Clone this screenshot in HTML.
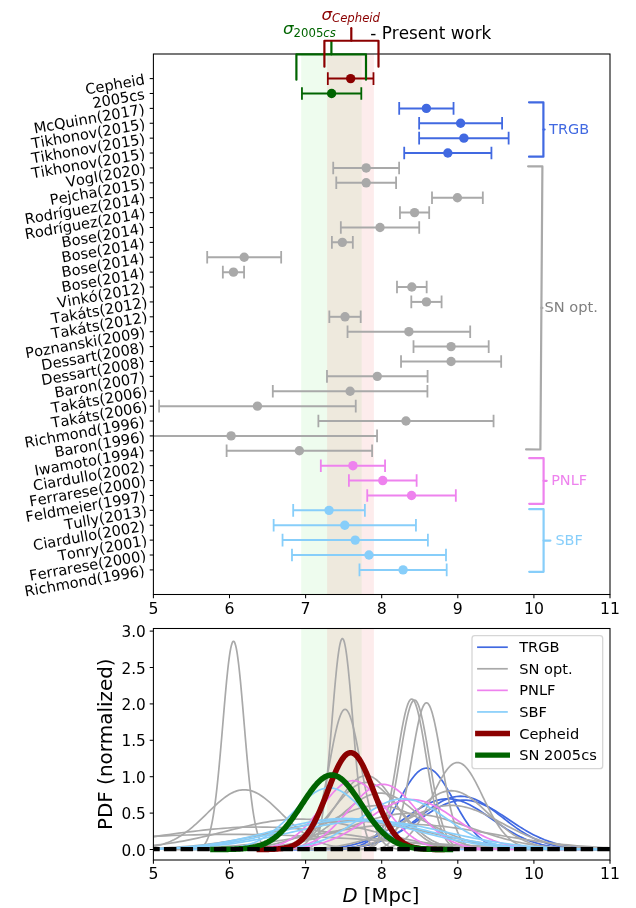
<!DOCTYPE html>
<html lang="en"><head><meta charset="utf-8"><title>M51 distance comparison</title>
<style>html,body{margin:0;padding:0;background:#fff}svg{display:block}text{font-kerning:none}</style>
</head><body>
<svg width="636" height="908" viewBox="0 0 636 908" font-family='"DejaVu Sans", "Liberation Sans", sans-serif'>
<defs><clipPath id="cu"><rect x="153.4" y="54.0" width="456.6" height="540.5"/></clipPath><clipPath id="cl"><rect x="153.4" y="628.5" width="456.6" height="231.5"/></clipPath></defs>
<rect width="636" height="908" fill="#fff"/>
<rect x="301.2" y="54.0" width="60.4" height="540.5" fill="#90EE90" fill-opacity="0.15"/>
<rect x="327.1" y="54.0" width="46.8" height="540.5" fill="#F08080" fill-opacity="0.15"/>
<rect x="301.2" y="628.5" width="60.4" height="231.5" fill="#90EE90" fill-opacity="0.15"/>
<rect x="327.1" y="628.5" width="46.8" height="231.5" fill="#F08080" fill-opacity="0.15"/>
<g clip-path="url(#cu)">
<g stroke="#8B0000" fill="#8B0000"><path d="M327.82,78.6H373.48" stroke-width="2.0"/><path d="M327.82,72.3V84.9M373.48,72.3V84.9" stroke-width="1.8"/><circle cx="350.65" cy="78.6" r="4.7" stroke="none"/></g>
<g stroke="#006400" fill="#006400"><path d="M301.95,93.49H361.3" stroke-width="2.0"/><path d="M301.95,87.19V99.79M361.3,87.19V99.79" stroke-width="1.8"/><circle cx="331.62" cy="93.49" r="4.7" stroke="none"/></g>
<g stroke="#4169E1" fill="#4169E1"><path d="M399.2,108.38H453.54" stroke-width="2.0"/><path d="M399.2,102.08V114.68M453.54,102.08V114.68" stroke-width="1.8"/><circle cx="426.37" cy="108.38" r="4.7" stroke="none"/></g>
<g stroke="#4169E1" fill="#4169E1"><path d="M419.14,123.26H502.09" stroke-width="2.0"/><path d="M419.14,116.96V129.56M502.09,116.96V129.56" stroke-width="1.8"/><circle cx="460.61" cy="123.26" r="4.7" stroke="none"/></g>
<g stroke="#4169E1" fill="#4169E1"><path d="M419.14,138.15H508.63" stroke-width="2.0"/><path d="M419.14,131.85V144.45M508.63,131.85V144.45" stroke-width="1.8"/><circle cx="463.89" cy="138.15" r="4.7" stroke="none"/></g>
<g stroke="#4169E1" fill="#4169E1"><path d="M404.22,153.04H491.43" stroke-width="2.0"/><path d="M404.22,146.74V159.34M491.43,146.74V159.34" stroke-width="1.8"/><circle cx="447.83" cy="153.04" r="4.7" stroke="none"/></g>
<g stroke="#A9A9A9" fill="#A9A9A9"><path d="M333.22,167.93H399.12" stroke-width="2.0"/><path d="M333.22,161.63V174.23M399.12,161.63V174.23" stroke-width="1.8"/><circle cx="366.17" cy="167.93" r="4.7" stroke="none"/></g>
<g stroke="#A9A9A9" fill="#A9A9A9"><path d="M336.27,182.82H396.08" stroke-width="2.0"/><path d="M336.27,176.52V189.12M396.08,176.52V189.12" stroke-width="1.8"/><circle cx="366.17" cy="182.82" r="4.7" stroke="none"/></g>
<g stroke="#A9A9A9" fill="#A9A9A9"><path d="M432,197.7H482.83" stroke-width="2.0"/><path d="M432,191.4V204M482.83,191.4V204" stroke-width="1.8"/><circle cx="457.42" cy="197.7" r="4.7" stroke="none"/></g>
<g stroke="#A9A9A9" fill="#A9A9A9"><path d="M399.96,212.59H429.18" stroke-width="2.0"/><path d="M399.96,206.29V218.89M429.18,206.29V218.89" stroke-width="1.8"/><circle cx="414.57" cy="212.59" r="4.7" stroke="none"/></g>
<g stroke="#A9A9A9" fill="#A9A9A9"><path d="M340.83,227.48H419.22" stroke-width="2.0"/><path d="M340.83,221.18V233.78M419.22,221.18V233.78" stroke-width="1.8"/><circle cx="380.02" cy="227.48" r="4.7" stroke="none"/></g>
<g stroke="#A9A9A9" fill="#A9A9A9"><path d="M331.88,242.37H352.83" stroke-width="2.0"/><path d="M331.88,236.07V248.67M352.83,236.07V248.67" stroke-width="1.8"/><circle cx="342.35" cy="242.37" r="4.7" stroke="none"/></g>
<g stroke="#A9A9A9" fill="#A9A9A9"><path d="M207.2,257.25H281.17" stroke-width="2.0"/><path d="M207.2,250.95V263.55M281.17,250.95V263.55" stroke-width="1.8"/><circle cx="244.19" cy="257.25" r="4.7" stroke="none"/></g>
<g stroke="#A9A9A9" fill="#A9A9A9"><path d="M222.84,272.14H244.07" stroke-width="2.0"/><path d="M222.84,265.84V278.44M244.07,265.84V278.44" stroke-width="1.8"/><circle cx="233.46" cy="272.14" r="4.7" stroke="none"/></g>
<g stroke="#A9A9A9" fill="#A9A9A9"><path d="M396.99,287.03H426.67" stroke-width="2.0"/><path d="M396.99,280.73V293.33M426.67,280.73V293.33" stroke-width="1.8"/><circle cx="411.83" cy="287.03" r="4.7" stroke="none"/></g>
<g stroke="#A9A9A9" fill="#A9A9A9"><path d="M411.3,301.92H441.59" stroke-width="2.0"/><path d="M411.3,295.62V308.22M441.59,295.62V308.22" stroke-width="1.8"/><circle cx="426.44" cy="301.92" r="4.7" stroke="none"/></g>
<g stroke="#A9A9A9" fill="#A9A9A9"><path d="M329.34,316.81H360.69" stroke-width="2.0"/><path d="M329.34,310.51V323.11M360.69,310.51V323.11" stroke-width="1.8"/><circle cx="345.02" cy="316.81" r="4.7" stroke="none"/></g>
<g stroke="#A9A9A9" fill="#A9A9A9"><path d="M347.53,331.69H470.2" stroke-width="2.0"/><path d="M347.53,325.39V337.99M470.2,325.39V337.99" stroke-width="1.8"/><circle cx="408.87" cy="331.69" r="4.7" stroke="none"/></g>
<g stroke="#A9A9A9" fill="#A9A9A9"><path d="M413.51,346.58H488.69" stroke-width="2.0"/><path d="M413.51,340.28V352.88M488.69,340.28V352.88" stroke-width="1.8"/><circle cx="451.1" cy="346.58" r="4.7" stroke="none"/></g>
<g stroke="#A9A9A9" fill="#A9A9A9"><path d="M401.03,361.47H501.17" stroke-width="2.0"/><path d="M401.03,355.17V367.77M501.17,355.17V367.77" stroke-width="1.8"/><circle cx="451.1" cy="361.47" r="4.7" stroke="none"/></g>
<g stroke="#A9A9A9" fill="#A9A9A9"><path d="M326.98,376.36H427.59" stroke-width="2.0"/><path d="M326.98,370.06V382.66M427.59,370.06V382.66" stroke-width="1.8"/><circle cx="377.28" cy="376.36" r="4.7" stroke="none"/></g>
<g stroke="#A9A9A9" fill="#A9A9A9"><path d="M272.8,391.25H427.43" stroke-width="2.0"/><path d="M272.8,384.95V397.55M427.43,384.95V397.55" stroke-width="1.8"/><circle cx="350.12" cy="391.25" r="4.7" stroke="none"/></g>
<g stroke="#A9A9A9" fill="#A9A9A9"><path d="M159.11,406.13H355.75" stroke-width="2.0"/><path d="M159.11,399.83V412.43M355.75,399.83V412.43" stroke-width="1.8"/><circle cx="257.43" cy="406.13" r="4.7" stroke="none"/></g>
<g stroke="#A9A9A9" fill="#A9A9A9"><path d="M318.38,421.02H493.56" stroke-width="2.0"/><path d="M318.38,414.72V427.32M493.56,414.72V427.32" stroke-width="1.8"/><circle cx="405.97" cy="421.02" r="4.7" stroke="none"/></g>
<g stroke="#A9A9A9" fill="#A9A9A9"><path d="M85.14,435.91H377.06" stroke-width="2.0"/><path d="M85.14,429.61V442.21M377.06,429.61V442.21" stroke-width="1.8"/><circle cx="231.1" cy="435.91" r="4.7" stroke="none"/></g>
<g stroke="#A9A9A9" fill="#A9A9A9"><path d="M226.61,450.8H372.11" stroke-width="2.0"/><path d="M226.61,444.5V457.1M372.11,444.5V457.1" stroke-width="1.8"/><circle cx="299.36" cy="450.8" r="4.7" stroke="none"/></g>
<g stroke="#EE82EE" fill="#EE82EE"><path d="M320.82,465.68H385.05" stroke-width="2.0"/><path d="M320.82,459.38V471.98M385.05,459.38V471.98" stroke-width="1.8"/><circle cx="352.93" cy="465.68" r="4.7" stroke="none"/></g>
<g stroke="#EE82EE" fill="#EE82EE"><path d="M348.9,480.57H416.63" stroke-width="2.0"/><path d="M348.9,474.27V486.87M416.63,474.27V486.87" stroke-width="1.8"/><circle cx="382.76" cy="480.57" r="4.7" stroke="none"/></g>
<g stroke="#EE82EE" fill="#EE82EE"><path d="M367.24,495.46H455.82" stroke-width="2.0"/><path d="M367.24,489.16V501.76M455.82,489.16V501.76" stroke-width="1.8"/><circle cx="411.53" cy="495.46" r="4.7" stroke="none"/></g>
<g stroke="#87CEFA" fill="#87CEFA"><path d="M293.19,510.35H364.88" stroke-width="2.0"/><path d="M293.19,504.05V516.65M364.88,504.05V516.65" stroke-width="1.8"/><circle cx="329.04" cy="510.35" r="4.7" stroke="none"/></g>
<g stroke="#87CEFA" fill="#87CEFA"><path d="M273.64,525.24H415.94" stroke-width="2.0"/><path d="M273.64,518.94V531.54M415.94,518.94V531.54" stroke-width="1.8"/><circle cx="344.79" cy="525.24" r="4.7" stroke="none"/></g>
<g stroke="#87CEFA" fill="#87CEFA"><path d="M282.54,540.12H427.89" stroke-width="2.0"/><path d="M282.54,533.82V546.42M427.89,533.82V546.42" stroke-width="1.8"/><circle cx="355.22" cy="540.12" r="4.7" stroke="none"/></g>
<g stroke="#87CEFA" fill="#87CEFA"><path d="M291.98,555.01H446" stroke-width="2.0"/><path d="M291.98,548.71V561.31M446,548.71V561.31" stroke-width="1.8"/><circle cx="368.99" cy="555.01" r="4.7" stroke="none"/></g>
<g stroke="#87CEFA" fill="#87CEFA"><path d="M359.48,569.9H446.69" stroke-width="2.0"/><path d="M359.48,563.6V576.2M446.69,563.6V576.2" stroke-width="1.8"/><circle cx="403.08" cy="569.9" r="4.7" stroke="none"/></g>
</g>
<g clip-path="url(#cl)">
<polyline points="317.75,849.47 319.11,849.47 320.46,849.46 321.82,849.45 323.18,849.44 324.54,849.43 325.90,849.41 327.26,849.40 328.61,849.38 329.97,849.35 331.33,849.32 332.69,849.29 334.05,849.25 335.41,849.20 336.77,849.15 338.12,849.09 339.48,849.01 340.84,848.93 342.20,848.83 343.56,848.72 344.92,848.60 346.27,848.45 347.63,848.29 348.99,848.10 350.35,847.89 351.71,847.65 353.07,847.37 354.42,847.07 355.78,846.73 357.14,846.35 358.50,845.93 359.86,845.45 361.22,844.93 362.57,844.36 363.93,843.72 365.29,843.03 366.65,842.27 368.01,841.43 369.37,840.53 370.72,839.55 372.08,838.49 373.44,837.35 374.80,836.12 376.16,834.80 377.52,833.40 378.88,831.91 380.23,830.32 381.59,828.65 382.95,826.88 384.31,825.03 385.67,823.09 387.03,821.07 388.38,818.97 389.74,816.79 391.10,814.55 392.46,812.25 393.82,809.90 395.18,807.51 396.53,805.08 397.89,802.62 399.25,800.16 400.61,797.69 401.97,795.24 403.33,792.81 404.68,790.43 406.04,788.09 407.40,785.82 408.76,783.64 410.12,781.55 411.48,779.57 412.83,777.71 414.19,775.98 415.55,774.40 416.91,772.98 418.27,771.73 419.63,770.65 420.98,769.76 422.34,769.06 423.70,768.55 425.06,768.25 426.42,768.15 427.78,768.25 429.14,768.55 430.49,769.06 431.85,769.76 433.21,770.65 434.57,771.73 435.93,772.98 437.29,774.40 438.64,775.98 440.00,777.71 441.36,779.57 442.72,781.55 444.08,783.64 445.44,785.82 446.79,788.09 448.15,790.43 449.51,792.81 450.87,795.24 452.23,797.69 453.59,800.16 454.94,802.62 456.30,805.08 457.66,807.51 459.02,809.90 460.38,812.25 461.74,814.55 463.09,816.79 464.45,818.97 465.81,821.07 467.17,823.09 468.53,825.03 469.89,826.88 471.25,828.65 472.60,830.32 473.96,831.91 475.32,833.40 476.68,834.80 478.04,836.12 479.40,837.35 480.75,838.49 482.11,839.55 483.47,840.53 484.83,841.43 486.19,842.27 487.55,843.03 488.90,843.72 490.26,844.36 491.62,844.93 492.98,845.45 494.34,845.93 495.70,846.35 497.05,846.73 498.41,847.07 499.77,847.37 501.13,847.65 502.49,847.89 503.85,848.10 505.20,848.29 506.56,848.45 507.92,848.60 509.28,848.72 510.64,848.83 512.00,848.93 513.36,849.01 514.71,849.09 516.07,849.15 517.43,849.20 518.79,849.25 520.15,849.29 521.51,849.32 522.86,849.35 524.22,849.38 525.58,849.40 526.94,849.41 528.30,849.43 529.66,849.44 531.01,849.45 532.37,849.46 533.73,849.47 535.09,849.47" fill="none" stroke="#4169E1" stroke-width="1.7" stroke-linejoin="round" stroke-linecap="square"/>
<polyline points="294.77,849.48 296.84,849.48 298.91,849.47 300.99,849.47 303.06,849.46 305.13,849.45 307.21,849.44 309.28,849.43 311.36,849.42 313.43,849.40 315.50,849.38 317.58,849.36 319.65,849.34 321.72,849.31 323.80,849.27 325.87,849.23 327.95,849.18 330.02,849.13 332.09,849.06 334.17,848.99 336.24,848.91 338.31,848.81 340.39,848.70 342.46,848.58 344.53,848.44 346.61,848.29 348.68,848.11 350.76,847.91 352.83,847.69 354.90,847.44 356.98,847.16 359.05,846.85 361.12,846.51 363.20,846.13 365.27,845.72 367.35,845.26 369.42,844.76 371.49,844.22 373.57,843.62 375.64,842.98 377.71,842.29 379.79,841.54 381.86,840.74 383.94,839.87 386.01,838.95 388.08,837.98 390.16,836.94 392.23,835.84 394.30,834.68 396.38,833.47 398.45,832.20 400.53,830.88 402.60,829.50 404.67,828.08 406.75,826.61 408.82,825.10 410.89,823.56 412.97,821.99 415.04,820.40 417.12,818.79 419.19,817.18 421.26,815.56 423.34,813.96 425.41,812.37 427.48,810.80 429.56,809.27 431.63,807.79 433.71,806.36 435.78,804.99 437.85,803.69 439.93,802.47 442.00,801.34 444.07,800.31 446.15,799.38 448.22,798.55 450.29,797.85 452.37,797.27 454.44,796.81 456.52,796.48 458.59,796.28 460.66,796.21 462.74,796.28 464.81,796.48 466.88,796.81 468.96,797.27 471.03,797.85 473.11,798.55 475.18,799.38 477.25,800.31 479.33,801.34 481.40,802.47 483.47,803.69 485.55,804.99 487.62,806.36 489.70,807.79 491.77,809.27 493.84,810.80 495.92,812.37 497.99,813.96 500.06,815.56 502.14,817.18 504.21,818.79 506.29,820.40 508.36,821.99 510.43,823.56 512.51,825.10 514.58,826.61 516.65,828.08 518.73,829.50 520.80,830.88 522.88,832.20 524.95,833.47 527.02,834.68 529.10,835.84 531.17,836.94 533.24,837.98 535.32,838.95 537.39,839.87 539.47,840.74 541.54,841.54 543.61,842.29 545.69,842.98 547.76,843.62 549.83,844.22 551.91,844.76 553.98,845.26 556.05,845.72 558.13,846.13 560.20,846.51 562.28,846.85 564.35,847.16 566.42,847.44 568.50,847.69 570.57,847.91 572.64,848.11 574.72,848.29 576.79,848.44 578.87,848.58 580.94,848.70 583.01,848.81 585.09,848.91 587.16,848.99 589.23,849.06 591.31,849.13 593.38,849.18 595.46,849.23 597.53,849.27 599.60,849.31 601.68,849.34 603.75,849.36 605.82,849.38 607.90,849.40 609.97,849.42 612.05,849.43 614.12,849.44 616.19,849.45 618.27,849.46 620.34,849.47 622.41,849.47 624.49,849.48 626.56,849.48" fill="none" stroke="#4169E1" stroke-width="1.7" stroke-linejoin="round" stroke-linecap="square"/>
<polyline points="284.95,849.48 287.19,849.48 289.42,849.48 291.66,849.47 293.90,849.46 296.14,849.46 298.37,849.45 300.61,849.44 302.85,849.42 305.08,849.41 307.32,849.39 309.56,849.37 311.80,849.35 314.03,849.32 316.27,849.29 318.51,849.25 320.75,849.20 322.98,849.15 325.22,849.10 327.46,849.03 329.70,848.95 331.93,848.86 334.17,848.76 336.41,848.65 338.64,848.52 340.88,848.37 343.12,848.21 345.36,848.03 347.59,847.82 349.83,847.59 352.07,847.33 354.31,847.04 356.54,846.73 358.78,846.38 361.02,845.99 363.26,845.57 365.49,845.11 367.73,844.60 369.97,844.05 372.20,843.46 374.44,842.82 376.68,842.12 378.92,841.38 381.15,840.58 383.39,839.73 385.63,838.82 387.87,837.86 390.10,836.84 392.34,835.77 394.58,834.64 396.82,833.46 399.05,832.24 401.29,830.96 403.53,829.64 405.76,828.28 408.00,826.89 410.24,825.46 412.48,824.00 414.71,822.53 416.95,821.04 419.19,819.54 421.43,818.05 423.66,816.56 425.90,815.08 428.14,813.63 430.38,812.22 432.61,810.84 434.85,809.51 437.09,808.24 439.33,807.04 441.56,805.91 443.80,804.86 446.04,803.90 448.27,803.04 450.51,802.28 452.75,801.63 454.99,801.09 457.22,800.66 459.46,800.35 461.70,800.17 463.94,800.11 466.17,800.17 468.41,800.35 470.65,800.66 472.89,801.09 475.12,801.63 477.36,802.28 479.60,803.04 481.83,803.90 484.07,804.86 486.31,805.91 488.55,807.04 490.78,808.24 493.02,809.51 495.26,810.84 497.50,812.22 499.73,813.63 501.97,815.08 504.21,816.56 506.45,818.05 508.68,819.54 510.92,821.04 513.16,822.53 515.39,824.00 517.63,825.46 519.87,826.89 522.11,828.28 524.34,829.64 526.58,830.96 528.82,832.24 531.06,833.46 533.29,834.64 535.53,835.77 537.77,836.84 540.01,837.86 542.24,838.82 544.48,839.73 546.72,840.58 548.95,841.38 551.19,842.12 553.43,842.82 555.67,843.46 557.90,844.05 560.14,844.60 562.38,845.11 564.62,845.57 566.85,845.99 569.09,846.38 571.33,846.73 573.57,847.04 575.80,847.33 578.04,847.59 580.28,847.82 582.51,848.03 584.75,848.21 586.99,848.37 589.23,848.52 591.46,848.65 593.70,848.76 595.94,848.86 598.18,848.95 600.41,849.03 602.65,849.10 604.89,849.15 607.13,849.20 609.36,849.25 611.60,849.29 613.84,849.32 616.07,849.35 618.31,849.37 620.55,849.39 622.79,849.41 625.02,849.42 627.26,849.44 629.50,849.45 631.74,849.46 633.97,849.46 636.21,849.47 638.45,849.48 640.69,849.48 642.92,849.48" fill="none" stroke="#4169E1" stroke-width="1.7" stroke-linejoin="round" stroke-linecap="square"/>
<polyline points="273.46,849.48 275.64,849.48 277.82,849.47 280.00,849.47 282.18,849.46 284.36,849.46 286.54,849.45 288.72,849.44 290.90,849.42 293.08,849.41 295.26,849.39 297.44,849.37 299.62,849.34 301.80,849.31 303.98,849.28 306.16,849.24 308.34,849.20 310.52,849.14 312.70,849.08 314.88,849.02 317.06,848.94 319.24,848.85 321.42,848.74 323.60,848.63 325.78,848.49 327.96,848.34 330.14,848.18 332.32,847.99 334.50,847.77 336.69,847.54 338.87,847.27 341.05,846.98 343.23,846.65 345.41,846.30 347.59,845.90 349.77,845.47 351.95,844.99 354.13,844.48 356.31,843.91 358.49,843.30 360.67,842.64 362.85,841.93 365.03,841.16 367.21,840.34 369.39,839.47 371.57,838.54 373.75,837.55 375.93,836.51 378.11,835.41 380.29,834.25 382.47,833.04 384.65,831.79 386.83,830.48 389.01,829.12 391.19,827.73 393.37,826.29 395.55,824.83 397.73,823.34 399.91,821.82 402.09,820.29 404.27,818.76 406.45,817.22 408.63,815.69 410.81,814.18 412.99,812.69 415.17,811.24 417.35,809.83 419.54,808.47 421.72,807.16 423.90,805.93 426.08,804.77 428.26,803.69 430.44,802.71 432.62,801.83 434.80,801.04 436.98,800.37 439.16,799.82 441.34,799.38 443.52,799.07 445.70,798.88 447.88,798.81 450.06,798.88 452.24,799.07 454.42,799.38 456.60,799.82 458.78,800.37 460.96,801.04 463.14,801.83 465.32,802.71 467.50,803.69 469.68,804.77 471.86,805.93 474.04,807.16 476.22,808.47 478.40,809.83 480.58,811.24 482.76,812.69 484.94,814.18 487.12,815.69 489.30,817.22 491.48,818.76 493.66,820.29 495.84,821.82 498.02,823.34 500.21,824.83 502.39,826.29 504.57,827.73 506.75,829.12 508.93,830.48 511.11,831.79 513.29,833.04 515.47,834.25 517.65,835.41 519.83,836.51 522.01,837.55 524.19,838.54 526.37,839.47 528.55,840.34 530.73,841.16 532.91,841.93 535.09,842.64 537.27,843.30 539.45,843.91 541.63,844.48 543.81,844.99 545.99,845.47 548.17,845.90 550.35,846.30 552.53,846.65 554.71,846.98 556.89,847.27 559.07,847.54 561.25,847.77 563.43,847.99 565.61,848.18 567.79,848.34 569.97,848.49 572.15,848.63 574.33,848.74 576.51,848.85 578.69,848.94 580.87,849.02 583.06,849.08 585.24,849.14 587.42,849.20 589.60,849.24 591.78,849.28 593.96,849.31 596.14,849.34 598.32,849.37 600.50,849.39 602.68,849.41 604.86,849.42 607.04,849.44 609.22,849.45 611.40,849.46 613.58,849.46 615.76,849.47 617.94,849.47 620.12,849.48 622.30,849.48" fill="none" stroke="#4169E1" stroke-width="1.7" stroke-linejoin="round" stroke-linecap="square"/>
<polyline points="234.42,849.48 236.07,849.47 237.71,849.47 239.36,849.46 241.01,849.45 242.66,849.44 244.30,849.43 245.95,849.41 247.60,849.40 249.25,849.38 250.89,849.35 252.54,849.33 254.19,849.29 255.84,849.25 257.48,849.21 259.13,849.16 260.78,849.10 262.43,849.03 264.07,848.95 265.72,848.86 267.37,848.75 269.02,848.64 270.66,848.50 272.31,848.34 273.96,848.17 275.61,847.97 277.25,847.75 278.90,847.50 280.55,847.22 282.20,846.90 283.85,846.55 285.49,846.16 287.14,845.73 288.79,845.26 290.44,844.74 292.08,844.16 293.73,843.54 295.38,842.85 297.03,842.11 298.67,841.30 300.32,840.42 301.97,839.48 303.62,838.47 305.26,837.38 306.91,836.23 308.56,834.99 310.21,833.69 311.85,832.31 313.50,830.85 315.15,829.32 316.80,827.72 318.44,826.06 320.09,824.33 321.74,822.53 323.39,820.69 325.03,818.79 326.68,816.85 328.33,814.88 329.98,812.87 331.62,810.85 333.27,808.82 334.92,806.79 336.57,804.76 338.21,802.76 339.86,800.79 341.51,798.87 343.16,797.00 344.81,795.20 346.45,793.48 348.10,791.84 349.75,790.31 351.40,788.88 353.04,787.58 354.69,786.41 356.34,785.38 357.99,784.49 359.63,783.75 361.28,783.18 362.93,782.76 364.58,782.51 366.22,782.43 367.87,782.51 369.52,782.76 371.17,783.18 372.81,783.75 374.46,784.49 376.11,785.38 377.76,786.41 379.40,787.58 381.05,788.88 382.70,790.31 384.35,791.84 385.99,793.48 387.64,795.20 389.29,797.00 390.94,798.87 392.58,800.79 394.23,802.76 395.88,804.76 397.53,806.79 399.17,808.82 400.82,810.85 402.47,812.87 404.12,814.88 405.76,816.85 407.41,818.79 409.06,820.69 410.71,822.53 412.36,824.33 414.00,826.06 415.65,827.72 417.30,829.32 418.95,830.85 420.59,832.31 422.24,833.69 423.89,834.99 425.54,836.23 427.18,837.38 428.83,838.47 430.48,839.48 432.13,840.42 433.77,841.30 435.42,842.11 437.07,842.85 438.72,843.54 440.36,844.16 442.01,844.74 443.66,845.26 445.31,845.73 446.95,846.16 448.60,846.55 450.25,846.90 451.90,847.22 453.54,847.50 455.19,847.75 456.84,847.97 458.49,848.17 460.13,848.34 461.78,848.50 463.43,848.64 465.08,848.75 466.72,848.86 468.37,848.95 470.02,849.03 471.67,849.10 473.32,849.16 474.96,849.21 476.61,849.25 478.26,849.29 479.91,849.33 481.55,849.35 483.20,849.38 484.85,849.40 486.50,849.41 488.14,849.43 489.79,849.44 491.44,849.45 493.09,849.46 494.73,849.47 496.38,849.47 498.03,849.48" fill="none" stroke="#A9A9A9" stroke-width="1.7" stroke-linejoin="round" stroke-linecap="square"/>
<polyline points="246.59,849.48 248.09,849.47 249.58,849.46 251.08,849.46 252.58,849.45 254.07,849.43 255.57,849.42 257.06,849.41 258.56,849.39 260.05,849.36 261.55,849.34 263.04,849.31 264.54,849.27 266.03,849.23 267.53,849.18 269.02,849.12 270.52,849.06 272.02,848.98 273.51,848.89 275.01,848.79 276.50,848.68 278.00,848.55 279.49,848.40 280.99,848.23 282.48,848.03 283.98,847.82 285.47,847.57 286.97,847.29 288.46,846.98 289.96,846.64 291.46,846.25 292.95,845.83 294.45,845.35 295.94,844.83 297.44,844.25 298.93,843.62 300.43,842.93 301.92,842.17 303.42,841.35 304.91,840.46 306.41,839.50 307.90,838.46 309.40,837.35 310.89,836.15 312.39,834.88 313.89,833.52 315.38,832.08 316.88,830.56 318.37,828.95 319.87,827.27 321.36,825.51 322.86,823.67 324.35,821.76 325.85,819.79 327.34,817.76 328.84,815.67 330.33,813.53 331.83,811.35 333.33,809.14 334.82,806.92 336.32,804.68 337.81,802.44 339.31,800.21 340.80,798.01 342.30,795.84 343.79,793.72 345.29,791.66 346.78,789.67 348.28,787.77 349.77,785.97 351.27,784.28 352.77,782.72 354.26,781.28 355.76,779.99 357.25,778.85 358.75,777.87 360.24,777.06 361.74,776.43 363.23,775.97 364.73,775.69 366.22,775.60 367.72,775.69 369.21,775.97 370.71,776.43 372.20,777.06 373.70,777.87 375.20,778.85 376.69,779.99 378.19,781.28 379.68,782.72 381.18,784.28 382.67,785.97 384.17,787.77 385.66,789.67 387.16,791.66 388.65,793.72 390.15,795.84 391.64,798.01 393.14,800.21 394.64,802.44 396.13,804.68 397.63,806.92 399.12,809.14 400.62,811.35 402.11,813.53 403.61,815.67 405.10,817.76 406.60,819.79 408.09,821.76 409.59,823.67 411.08,825.51 412.58,827.27 414.08,828.95 415.57,830.56 417.07,832.08 418.56,833.52 420.06,834.88 421.55,836.15 423.05,837.35 424.54,838.46 426.04,839.50 427.53,840.46 429.03,841.35 430.52,842.17 432.02,842.93 433.51,843.62 435.01,844.25 436.51,844.83 438.00,845.35 439.50,845.83 440.99,846.25 442.49,846.64 443.98,846.98 445.48,847.29 446.97,847.57 448.47,847.82 449.96,848.03 451.46,848.23 452.95,848.40 454.45,848.55 455.95,848.68 457.44,848.79 458.94,848.89 460.43,848.98 461.93,849.06 463.42,849.12 464.92,849.18 466.41,849.23 467.91,849.27 469.40,849.31 470.90,849.34 472.39,849.36 473.89,849.39 475.39,849.41 476.88,849.42 478.38,849.43 479.87,849.45 481.37,849.46 482.86,849.46 484.36,849.47 485.85,849.48" fill="none" stroke="#A9A9A9" stroke-width="1.7" stroke-linejoin="round" stroke-linecap="square"/>
<polyline points="355.80,849.47 357.07,849.46 358.34,849.46 359.61,849.45 360.88,849.44 362.15,849.42 363.42,849.41 364.69,849.39 365.96,849.37 367.24,849.34 368.51,849.31 369.78,849.27 371.05,849.23 372.32,849.18 373.59,849.12 374.86,849.06 376.13,848.98 377.40,848.89 378.67,848.79 379.94,848.67 381.22,848.53 382.49,848.38 383.76,848.20 385.03,848.00 386.30,847.77 387.57,847.52 388.84,847.23 390.11,846.90 391.38,846.54 392.65,846.13 393.92,845.68 395.19,845.18 396.47,844.62 397.74,844.00 399.01,843.33 400.28,842.58 401.55,841.77 402.82,840.88 404.09,839.91 405.36,838.87 406.63,837.73 407.90,836.51 409.17,835.20 410.45,833.79 411.72,832.29 412.99,830.69 414.26,829.00 415.53,827.21 416.80,825.32 418.07,823.34 419.34,821.27 420.61,819.11 421.88,816.86 423.15,814.54 424.42,812.15 425.70,809.69 426.97,807.17 428.24,804.61 429.51,802.02 430.78,799.39 432.05,796.76 433.32,794.12 434.59,791.50 435.86,788.91 437.13,786.36 438.40,783.86 439.68,781.44 440.95,779.10 442.22,776.87 443.49,774.75 444.76,772.76 446.03,770.92 447.30,769.23 448.57,767.71 449.84,766.37 451.11,765.22 452.38,764.27 453.65,763.52 454.93,762.98 456.20,762.65 457.47,762.54 458.74,762.65 460.01,762.98 461.28,763.52 462.55,764.27 463.82,765.22 465.09,766.37 466.36,767.71 467.63,769.23 468.91,770.92 470.18,772.76 471.45,774.75 472.72,776.87 473.99,779.10 475.26,781.44 476.53,783.86 477.80,786.36 479.07,788.91 480.34,791.50 481.61,794.12 482.88,796.76 484.16,799.39 485.43,802.02 486.70,804.61 487.97,807.17 489.24,809.69 490.51,812.15 491.78,814.54 493.05,816.86 494.32,819.11 495.59,821.27 496.86,823.34 498.14,825.32 499.41,827.21 500.68,829.00 501.95,830.69 503.22,832.29 504.49,833.79 505.76,835.20 507.03,836.51 508.30,837.73 509.57,838.87 510.84,839.91 512.11,840.88 513.39,841.77 514.66,842.58 515.93,843.33 517.20,844.00 518.47,844.62 519.74,845.18 521.01,845.68 522.28,846.13 523.55,846.54 524.82,846.90 526.09,847.23 527.37,847.52 528.64,847.77 529.91,848.00 531.18,848.20 532.45,848.38 533.72,848.53 534.99,848.67 536.26,848.79 537.53,848.89 538.80,848.98 540.07,849.06 541.34,849.12 542.62,849.18 543.89,849.23 545.16,849.27 546.43,849.31 547.70,849.34 548.97,849.37 550.24,849.39 551.51,849.41 552.78,849.42 554.05,849.44 555.32,849.45 556.60,849.46 557.87,849.46 559.14,849.47" fill="none" stroke="#A9A9A9" stroke-width="1.7" stroke-linejoin="round" stroke-linecap="square"/>
<polyline points="355.40,849.45 356.14,849.44 356.88,849.43 357.62,849.41 358.36,849.39 359.10,849.37 359.84,849.34 360.58,849.31 361.32,849.27 362.06,849.23 362.80,849.17 363.53,849.11 364.27,849.04 365.01,848.95 365.75,848.85 366.49,848.74 367.23,848.61 367.97,848.45 368.71,848.28 369.45,848.07 370.19,847.84 370.93,847.57 371.67,847.27 372.41,846.92 373.15,846.53 373.88,846.09 374.62,845.60 375.36,845.04 376.10,844.41 376.84,843.71 377.58,842.93 378.32,842.07 379.06,841.11 379.80,840.05 380.54,838.89 381.28,837.61 382.02,836.21 382.76,834.68 383.50,833.02 384.24,831.22 384.97,829.27 385.71,827.17 386.45,824.92 387.19,822.50 387.93,819.92 388.67,817.17 389.41,814.26 390.15,811.18 390.89,807.94 391.63,804.54 392.37,800.97 393.11,797.26 393.85,793.40 394.59,789.41 395.32,785.29 396.06,781.07 396.80,776.74 397.54,772.34 398.28,767.88 399.02,763.37 399.76,758.84 400.50,754.31 401.24,749.80 401.98,745.35 402.72,740.96 403.46,736.67 404.20,732.51 404.94,728.49 405.68,724.65 406.41,721.01 407.15,717.59 407.89,714.42 408.63,711.52 409.37,708.91 410.11,706.60 410.85,704.62 411.59,702.98 412.33,701.70 413.07,700.77 413.81,700.21 414.55,700.02 415.29,700.21 416.03,700.77 416.76,701.70 417.50,702.98 418.24,704.62 418.98,706.60 419.72,708.91 420.46,711.52 421.20,714.42 421.94,717.59 422.68,721.01 423.42,724.65 424.16,728.49 424.90,732.51 425.64,736.67 426.38,740.96 427.12,745.35 427.85,749.80 428.59,754.31 429.33,758.84 430.07,763.37 430.81,767.88 431.55,772.34 432.29,776.74 433.03,781.07 433.77,785.29 434.51,789.41 435.25,793.40 435.99,797.26 436.73,800.97 437.47,804.54 438.20,807.94 438.94,811.18 439.68,814.26 440.42,817.17 441.16,819.92 441.90,822.50 442.64,824.92 443.38,827.17 444.12,829.27 444.86,831.22 445.60,833.02 446.34,834.68 447.08,836.21 447.82,837.61 448.56,838.89 449.29,840.05 450.03,841.11 450.77,842.07 451.51,842.93 452.25,843.71 452.99,844.41 453.73,845.04 454.47,845.60 455.21,846.09 455.95,846.53 456.69,846.92 457.43,847.27 458.17,847.57 458.91,847.84 459.64,848.07 460.38,848.28 461.12,848.45 461.86,848.61 462.60,848.74 463.34,848.85 464.08,848.95 464.82,849.04 465.56,849.11 466.30,849.17 467.04,849.23 467.78,849.27 468.52,849.31 469.26,849.34 470.00,849.37 470.73,849.39 471.47,849.41 472.21,849.43 472.95,849.44 473.69,849.45" fill="none" stroke="#A9A9A9" stroke-width="1.7" stroke-linejoin="round" stroke-linecap="square"/>
<polyline points="223.31,849.48 225.27,849.48 227.23,849.47 229.19,849.47 231.15,849.46 233.11,849.45 235.07,849.44 237.02,849.43 238.98,849.41 240.94,849.40 242.90,849.38 244.86,849.35 246.82,849.33 248.78,849.29 250.74,849.26 252.70,849.21 254.66,849.16 256.62,849.11 258.58,849.04 260.54,848.96 262.50,848.87 264.46,848.77 266.42,848.66 268.38,848.53 270.34,848.38 272.30,848.21 274.26,848.03 276.22,847.82 278.18,847.58 280.14,847.32 282.09,847.02 284.05,846.70 286.01,846.33 287.97,845.94 289.93,845.50 291.89,845.01 293.85,844.49 295.81,843.91 297.77,843.28 299.73,842.60 301.69,841.87 303.65,841.08 305.61,840.22 307.57,839.31 309.53,838.34 311.49,837.30 313.45,836.21 315.41,835.04 317.37,833.82 319.33,832.54 321.29,831.19 323.25,829.79 325.21,828.33 327.17,826.83 329.12,825.28 331.08,823.68 333.04,822.05 335.00,820.39 336.96,818.70 338.92,817.00 340.88,815.30 342.84,813.59 344.80,811.89 346.76,810.20 348.72,808.55 350.68,806.93 352.64,805.36 354.60,803.84 356.56,802.40 358.52,801.02 360.48,799.73 362.44,798.54 364.40,797.44 366.36,796.46 368.32,795.59 370.28,794.84 372.24,794.22 374.19,793.74 376.15,793.39 378.11,793.18 380.07,793.11 382.03,793.18 383.99,793.39 385.95,793.74 387.91,794.22 389.87,794.84 391.83,795.59 393.79,796.46 395.75,797.44 397.71,798.54 399.67,799.73 401.63,801.02 403.59,802.40 405.55,803.84 407.51,805.36 409.47,806.93 411.43,808.55 413.39,810.20 415.35,811.89 417.31,813.59 419.27,815.30 421.22,817.00 423.18,818.70 425.14,820.39 427.10,822.05 429.06,823.68 431.02,825.28 432.98,826.83 434.94,828.33 436.90,829.79 438.86,831.19 440.82,832.54 442.78,833.82 444.74,835.04 446.70,836.21 448.66,837.30 450.62,838.34 452.58,839.31 454.54,840.22 456.50,841.08 458.46,841.87 460.42,842.60 462.38,843.28 464.34,843.91 466.29,844.49 468.25,845.01 470.21,845.50 472.17,845.94 474.13,846.33 476.09,846.70 478.05,847.02 480.01,847.32 481.97,847.58 483.93,847.82 485.89,848.03 487.85,848.21 489.81,848.38 491.77,848.53 493.73,848.66 495.69,848.77 497.65,848.87 499.61,848.96 501.57,849.04 503.53,849.11 505.49,849.16 507.45,849.21 509.41,849.26 511.37,849.29 513.32,849.33 515.28,849.35 517.24,849.38 519.20,849.40 521.16,849.41 523.12,849.43 525.08,849.44 527.04,849.45 529.00,849.46 530.96,849.47 532.92,849.47 534.88,849.48 536.84,849.48" fill="none" stroke="#A9A9A9" stroke-width="1.7" stroke-linejoin="round" stroke-linecap="square"/>
<polyline points="300.49,849.43 301.01,849.41 301.54,849.39 302.06,849.37 302.58,849.35 303.11,849.31 303.63,849.28 304.16,849.23 304.68,849.18 305.20,849.11 305.73,849.04 306.25,848.95 306.78,848.85 307.30,848.73 307.82,848.59 308.35,848.43 308.87,848.24 309.40,848.02 309.92,847.77 310.44,847.49 310.97,847.16 311.49,846.78 312.02,846.35 312.54,845.87 313.06,845.32 313.59,844.69 314.11,843.99 314.63,843.20 315.16,842.32 315.68,841.33 316.21,840.23 316.73,839.01 317.25,837.66 317.78,836.17 318.30,834.52 318.83,832.72 319.35,830.75 319.87,828.59 320.40,826.25 320.92,823.70 321.45,820.96 321.97,817.99 322.49,814.81 323.02,811.40 323.54,807.76 324.07,803.89 324.59,799.78 325.11,795.43 325.64,790.86 326.16,786.05 326.69,781.03 327.21,775.79 327.73,770.34 328.26,764.71 328.78,758.90 329.31,752.94 329.83,746.84 330.35,740.62 330.88,734.32 331.40,727.96 331.93,721.57 332.45,715.18 332.97,708.82 333.50,702.53 334.02,696.34 334.54,690.29 335.07,684.42 335.59,678.75 336.12,673.33 336.64,668.19 337.16,663.37 337.69,658.89 338.21,654.80 338.74,651.12 339.26,647.87 339.78,645.07 340.31,642.76 340.83,640.94 341.36,639.64 341.88,638.85 342.40,638.58 342.93,638.85 343.45,639.64 343.98,640.94 344.50,642.76 345.02,645.07 345.55,647.87 346.07,651.12 346.60,654.80 347.12,658.89 347.64,663.37 348.17,668.19 348.69,673.33 349.22,678.75 349.74,684.42 350.26,690.29 350.79,696.34 351.31,702.53 351.84,708.82 352.36,715.18 352.88,721.57 353.41,727.96 353.93,734.32 354.45,740.62 354.98,746.84 355.50,752.94 356.03,758.90 356.55,764.71 357.07,770.34 357.60,775.79 358.12,781.03 358.65,786.05 359.17,790.86 359.69,795.43 360.22,799.78 360.74,803.89 361.27,807.76 361.79,811.40 362.31,814.81 362.84,817.99 363.36,820.96 363.89,823.70 364.41,826.25 364.93,828.59 365.46,830.75 365.98,832.72 366.51,834.52 367.03,836.17 367.55,837.66 368.08,839.01 368.60,840.23 369.13,841.33 369.65,842.32 370.17,843.20 370.70,843.99 371.22,844.69 371.75,845.32 372.27,845.87 372.79,846.35 373.32,846.78 373.84,847.16 374.36,847.49 374.89,847.77 375.41,848.02 375.94,848.24 376.46,848.43 376.98,848.59 377.51,848.73 378.03,848.85 378.56,848.95 379.08,849.04 379.60,849.11 380.13,849.18 380.65,849.23 381.18,849.28 381.70,849.31 382.22,849.35 382.75,849.37 383.27,849.39 383.80,849.41 384.32,849.43" fill="none" stroke="#A9A9A9" stroke-width="1.7" stroke-linejoin="round" stroke-linecap="square"/>
<polyline points="96.30,849.48 98.15,849.48 100.00,849.47 101.84,849.46 103.69,849.46 105.54,849.45 107.39,849.44 109.24,849.42 111.09,849.41 112.94,849.39 114.79,849.37 116.64,849.34 118.49,849.32 120.34,849.28 122.19,849.24 124.04,849.20 125.88,849.14 127.73,849.08 129.58,849.01 131.43,848.93 133.28,848.84 135.13,848.73 136.98,848.61 138.83,848.47 140.68,848.31 142.53,848.14 144.38,847.94 146.23,847.72 148.08,847.47 149.92,847.19 151.77,846.87 153.62,846.53 155.47,846.15 157.32,845.72 159.17,845.26 161.02,844.75 162.87,844.19 164.72,843.58 166.57,842.91 168.42,842.19 170.27,841.41 172.12,840.57 173.96,839.67 175.81,838.71 177.66,837.67 179.51,836.58 181.36,835.41 183.21,834.18 185.06,832.88 186.91,831.52 188.76,830.10 190.61,828.61 192.46,827.07 194.31,825.48 196.16,823.83 198.00,822.14 199.85,820.41 201.70,818.65 203.55,816.87 205.40,815.06 207.25,813.25 209.10,811.44 210.95,809.64 212.80,807.86 214.65,806.11 216.50,804.39 218.35,802.73 220.20,801.12 222.04,799.58 223.89,798.13 225.74,796.76 227.59,795.50 229.44,794.34 231.29,793.29 233.14,792.37 234.99,791.58 236.84,790.92 238.69,790.41 240.54,790.04 242.39,789.82 244.24,789.74 246.08,789.82 247.93,790.04 249.78,790.41 251.63,790.92 253.48,791.58 255.33,792.37 257.18,793.29 259.03,794.34 260.88,795.50 262.73,796.76 264.58,798.13 266.43,799.58 268.28,801.12 270.12,802.73 271.97,804.39 273.82,806.11 275.67,807.86 277.52,809.64 279.37,811.44 281.22,813.25 283.07,815.06 284.92,816.87 286.77,818.65 288.62,820.41 290.47,822.14 292.32,823.83 294.16,825.48 296.01,827.07 297.86,828.61 299.71,830.10 301.56,831.52 303.41,832.88 305.26,834.18 307.11,835.41 308.96,836.58 310.81,837.67 312.66,838.71 314.51,839.67 316.36,840.57 318.20,841.41 320.05,842.19 321.90,842.91 323.75,843.58 325.60,844.19 327.45,844.75 329.30,845.26 331.15,845.72 333.00,846.15 334.85,846.53 336.70,846.87 338.55,847.19 340.40,847.47 342.24,847.72 344.09,847.94 345.94,848.14 347.79,848.31 349.64,848.47 351.49,848.61 353.34,848.73 355.19,848.84 357.04,848.93 358.89,849.01 360.74,849.08 362.59,849.14 364.44,849.20 366.28,849.24 368.13,849.28 369.98,849.32 371.83,849.34 373.68,849.37 375.53,849.39 377.38,849.41 379.23,849.42 381.08,849.44 382.93,849.45 384.78,849.46 386.63,849.46 388.48,849.47 390.32,849.48 392.17,849.48" fill="none" stroke="#A9A9A9" stroke-width="1.7" stroke-linejoin="round" stroke-linecap="square"/>
<polyline points="191.04,849.43 191.57,849.41 192.10,849.40 192.63,849.37 193.16,849.35 193.70,849.32 194.23,849.28 194.76,849.23 195.29,849.18 195.82,849.12 196.35,849.04 196.88,848.96 197.41,848.86 197.94,848.74 198.47,848.60 199.00,848.44 199.53,848.26 200.06,848.04 200.60,847.80 201.13,847.51 201.66,847.19 202.19,846.82 202.72,846.39 203.25,845.91 203.78,845.37 204.31,844.75 204.84,844.06 205.37,843.28 205.90,842.41 206.43,841.44 206.97,840.35 207.50,839.15 208.03,837.81 208.56,836.34 209.09,834.72 209.62,832.94 210.15,830.99 210.68,828.86 211.21,826.55 211.74,824.04 212.27,821.32 212.80,818.40 213.33,815.26 213.87,811.89 214.40,808.30 214.93,804.47 215.46,800.42 215.99,796.13 216.52,791.61 217.05,786.87 217.58,781.91 218.11,776.74 218.64,771.36 219.17,765.80 219.70,760.07 220.24,754.18 220.77,748.16 221.30,742.03 221.83,735.81 222.36,729.53 222.89,723.22 223.42,716.92 223.95,710.64 224.48,704.43 225.01,698.32 225.54,692.35 226.07,686.55 226.60,680.95 227.14,675.60 227.67,670.53 228.20,665.77 228.73,661.35 229.26,657.31 229.79,653.68 230.32,650.47 230.85,647.71 231.38,645.43 231.91,643.64 232.44,642.34 232.97,641.57 233.50,641.31 234.04,641.57 234.57,642.34 235.10,643.64 235.63,645.43 236.16,647.71 236.69,650.47 237.22,653.68 237.75,657.31 238.28,661.35 238.81,665.77 239.34,670.53 239.87,675.60 240.41,680.95 240.94,686.55 241.47,692.35 242.00,698.32 242.53,704.43 243.06,710.64 243.59,716.92 244.12,723.22 244.65,729.53 245.18,735.81 245.71,742.03 246.24,748.16 246.77,754.18 247.31,760.07 247.84,765.80 248.37,771.36 248.90,776.74 249.43,781.91 249.96,786.87 250.49,791.61 251.02,796.13 251.55,800.42 252.08,804.47 252.61,808.30 253.14,811.89 253.68,815.26 254.21,818.40 254.74,821.32 255.27,824.04 255.80,826.55 256.33,828.86 256.86,830.99 257.39,832.94 257.92,834.72 258.45,836.34 258.98,837.81 259.51,839.15 260.04,840.35 260.58,841.44 261.11,842.41 261.64,843.28 262.17,844.06 262.70,844.75 263.23,845.37 263.76,845.91 264.29,846.39 264.82,846.82 265.35,847.19 265.88,847.51 266.41,847.80 266.95,848.04 267.48,848.26 268.01,848.44 268.54,848.60 269.07,848.74 269.60,848.86 270.13,848.96 270.66,849.04 271.19,849.12 271.72,849.18 272.25,849.23 272.78,849.28 273.31,849.32 273.85,849.35 274.38,849.37 274.91,849.40 275.44,849.41 275.97,849.43" fill="none" stroke="#A9A9A9" stroke-width="1.7" stroke-linejoin="round" stroke-linecap="square"/>
<polyline points="352.98,849.45 353.72,849.44 354.45,849.43 355.19,849.41 355.92,849.39 356.65,849.37 357.39,849.34 358.12,849.31 358.86,849.27 359.59,849.22 360.33,849.17 361.06,849.11 361.79,849.04 362.53,848.95 363.26,848.85 364.00,848.73 364.73,848.60 365.47,848.45 366.20,848.27 366.93,848.06 367.67,847.83 368.40,847.56 369.14,847.25 369.87,846.91 370.61,846.51 371.34,846.07 372.08,845.57 372.81,845.01 373.54,844.38 374.28,843.67 375.01,842.89 375.75,842.02 376.48,841.05 377.22,839.99 377.95,838.81 378.68,837.53 379.42,836.12 380.15,834.58 380.89,832.91 381.62,831.10 382.36,829.13 383.09,827.02 383.83,824.75 384.56,822.32 385.29,819.72 386.03,816.96 386.76,814.02 387.50,810.93 388.23,807.66 388.97,804.23 389.70,800.65 390.43,796.91 391.17,793.02 391.90,789.00 392.64,784.86 393.37,780.60 394.11,776.25 394.84,771.82 395.58,767.33 396.31,762.79 397.04,758.23 397.78,753.67 398.51,749.13 399.25,744.64 399.98,740.23 400.72,735.91 401.45,731.72 402.18,727.67 402.92,723.81 403.65,720.14 404.39,716.70 405.12,713.51 405.86,710.59 406.59,707.96 407.33,705.64 408.06,703.65 408.79,702.00 409.53,700.70 410.26,699.77 411.00,699.21 411.73,699.02 412.47,699.21 413.20,699.77 413.93,700.70 414.67,702.00 415.40,703.65 416.14,705.64 416.87,707.96 417.61,710.59 418.34,713.51 419.07,716.70 419.81,720.14 420.54,723.81 421.28,727.67 422.01,731.72 422.75,735.91 423.48,740.23 424.22,744.64 424.95,749.13 425.68,753.67 426.42,758.23 427.15,762.79 427.89,767.33 428.62,771.82 429.36,776.25 430.09,780.60 430.82,784.86 431.56,789.00 432.29,793.02 433.03,796.91 433.76,800.65 434.50,804.23 435.23,807.66 435.97,810.93 436.70,814.02 437.43,816.96 438.17,819.72 438.90,822.32 439.64,824.75 440.37,827.02 441.11,829.13 441.84,831.10 442.57,832.91 443.31,834.58 444.04,836.12 444.78,837.53 445.51,838.81 446.25,839.99 446.98,841.05 447.72,842.02 448.45,842.89 449.18,843.67 449.92,844.38 450.65,845.01 451.39,845.57 452.12,846.07 452.86,846.51 453.59,846.91 454.32,847.25 455.06,847.56 455.79,847.83 456.53,848.06 457.26,848.27 458.00,848.45 458.73,848.60 459.46,848.73 460.20,848.85 460.93,848.95 461.67,849.04 462.40,849.11 463.14,849.17 463.87,849.22 464.61,849.27 465.34,849.31 466.07,849.34 466.81,849.37 467.54,849.39 468.28,849.41 469.01,849.43 469.75,849.44 470.48,849.45" fill="none" stroke="#A9A9A9" stroke-width="1.7" stroke-linejoin="round" stroke-linecap="square"/>
<polyline points="366.22,849.45 366.98,849.44 367.73,849.43 368.48,849.41 369.24,849.39 369.99,849.37 370.74,849.34 371.50,849.31 372.25,849.28 373.00,849.23 373.76,849.18 374.51,849.12 375.26,849.05 376.02,848.96 376.77,848.87 377.52,848.75 378.28,848.62 379.03,848.47 379.78,848.30 380.54,848.10 381.29,847.87 382.04,847.61 382.80,847.31 383.55,846.97 384.30,846.59 385.06,846.16 385.81,845.67 386.56,845.12 387.32,844.51 388.07,843.82 388.83,843.06 389.58,842.21 390.33,841.27 391.09,840.23 391.84,839.08 392.59,837.83 393.35,836.46 394.10,834.96 394.85,833.33 395.61,831.56 396.36,829.65 397.11,827.59 397.87,825.37 398.62,823.00 399.37,820.47 400.13,817.78 400.88,814.92 401.63,811.90 402.39,808.72 403.14,805.38 403.89,801.88 404.65,798.23 405.40,794.45 406.15,790.53 406.91,786.49 407.66,782.34 408.41,778.10 409.17,773.78 409.92,769.40 410.67,764.98 411.43,760.53 412.18,756.09 412.93,751.67 413.69,747.29 414.44,742.99 415.19,738.78 415.95,734.69 416.70,730.75 417.45,726.98 418.21,723.41 418.96,720.05 419.71,716.94 420.47,714.10 421.22,711.53 421.97,709.27 422.73,707.33 423.48,705.72 424.23,704.46 424.99,703.55 425.74,703.00 426.49,702.82 427.25,703.00 428.00,703.55 428.75,704.46 429.51,705.72 430.26,707.33 431.01,709.27 431.77,711.53 432.52,714.10 433.28,716.94 434.03,720.05 434.78,723.41 435.54,726.98 436.29,730.75 437.04,734.69 437.80,738.78 438.55,742.99 439.30,747.29 440.06,751.67 440.81,756.09 441.56,760.53 442.32,764.98 443.07,769.40 443.82,773.78 444.58,778.10 445.33,782.34 446.08,786.49 446.84,790.53 447.59,794.45 448.34,798.23 449.10,801.88 449.85,805.38 450.60,808.72 451.36,811.90 452.11,814.92 452.86,817.78 453.62,820.47 454.37,823.00 455.12,825.37 455.88,827.59 456.63,829.65 457.38,831.56 458.14,833.33 458.89,834.96 459.64,836.46 460.40,837.83 461.15,839.08 461.90,840.23 462.66,841.27 463.41,842.21 464.16,843.06 464.92,843.82 465.67,844.51 466.42,845.12 467.18,845.67 467.93,846.16 468.68,846.59 469.44,846.97 470.19,847.31 470.94,847.61 471.70,847.87 472.45,848.10 473.20,848.30 473.96,848.47 474.71,848.62 475.46,848.75 476.22,848.87 476.97,848.96 477.73,849.05 478.48,849.12 479.23,849.18 479.99,849.23 480.74,849.28 481.49,849.31 482.25,849.34 483.00,849.37 483.75,849.39 484.51,849.41 485.26,849.43 486.01,849.44 486.77,849.45" fill="none" stroke="#A9A9A9" stroke-width="1.7" stroke-linejoin="round" stroke-linecap="square"/>
<polyline points="282.00,849.45 282.78,849.44 283.57,849.43 284.36,849.42 285.15,849.40 285.94,849.38 286.73,849.35 287.51,849.32 288.30,849.29 289.09,849.24 289.88,849.19 290.67,849.14 291.46,849.07 292.25,848.99 293.03,848.89 293.82,848.79 294.61,848.66 295.40,848.52 296.19,848.35 296.98,848.16 297.76,847.94 298.55,847.69 299.34,847.41 300.13,847.09 300.92,846.72 301.71,846.30 302.49,845.84 303.28,845.31 304.07,844.73 304.86,844.07 305.65,843.34 306.44,842.53 307.22,841.63 308.01,840.64 308.80,839.55 309.59,838.35 310.38,837.04 311.17,835.60 311.95,834.05 312.74,832.36 313.53,830.53 314.32,828.56 315.11,826.45 315.90,824.18 316.69,821.76 317.47,819.19 318.26,816.46 319.05,813.57 319.84,810.53 320.63,807.33 321.42,803.99 322.20,800.51 322.99,796.89 323.78,793.15 324.57,789.29 325.36,785.33 326.15,781.27 326.93,777.14 327.72,772.96 328.51,768.73 329.30,764.48 330.09,760.24 330.88,756.01 331.66,751.83 332.45,747.72 333.24,743.69 334.03,739.79 334.82,736.02 335.61,732.42 336.40,729.01 337.18,725.80 337.97,722.83 338.76,720.11 339.55,717.66 340.34,715.50 341.13,713.64 341.91,712.11 342.70,710.90 343.49,710.03 344.28,709.51 345.07,709.33 345.86,709.51 346.64,710.03 347.43,710.90 348.22,712.11 349.01,713.64 349.80,715.50 350.59,717.66 351.37,720.11 352.16,722.83 352.95,725.80 353.74,729.01 354.53,732.42 355.32,736.02 356.11,739.79 356.89,743.69 357.68,747.72 358.47,751.83 359.26,756.01 360.05,760.24 360.84,764.48 361.62,768.73 362.41,772.96 363.20,777.14 363.99,781.27 364.78,785.33 365.57,789.29 366.35,793.15 367.14,796.89 367.93,800.51 368.72,803.99 369.51,807.33 370.30,810.53 371.08,813.57 371.87,816.46 372.66,819.19 373.45,821.76 374.24,824.18 375.03,826.45 375.82,828.56 376.60,830.53 377.39,832.36 378.18,834.05 378.97,835.60 379.76,837.04 380.55,838.35 381.33,839.55 382.12,840.64 382.91,841.63 383.70,842.53 384.49,843.34 385.28,844.07 386.06,844.73 386.85,845.31 387.64,845.84 388.43,846.30 389.22,846.72 390.01,847.09 390.79,847.41 391.58,847.69 392.37,847.94 393.16,848.16 393.95,848.35 394.74,848.52 395.52,848.66 396.31,848.79 397.10,848.89 397.89,848.99 398.68,849.07 399.47,849.14 400.26,849.19 401.04,849.24 401.83,849.29 402.62,849.32 403.41,849.35 404.20,849.38 404.99,849.40 405.77,849.42 406.56,849.43 407.35,849.44 408.14,849.45" fill="none" stroke="#A9A9A9" stroke-width="1.7" stroke-linejoin="round" stroke-linecap="square"/>
<polyline points="163.57,849.49 166.64,849.49 169.70,849.48 172.77,849.48 175.84,849.47 178.90,849.47 181.97,849.46 185.04,849.45 188.10,849.44 191.17,849.43 194.24,849.42 197.30,849.41 200.37,849.39 203.44,849.37 206.50,849.34 209.57,849.32 212.64,849.28 215.71,849.25 218.77,849.20 221.84,849.16 224.91,849.10 227.97,849.04 231.04,848.96 234.11,848.88 237.17,848.79 240.24,848.68 243.31,848.56 246.37,848.42 249.44,848.27 252.51,848.10 255.57,847.92 258.64,847.71 261.71,847.48 264.77,847.22 267.84,846.94 270.91,846.63 273.97,846.30 277.04,845.93 280.11,845.53 283.18,845.09 286.24,844.62 289.31,844.12 292.38,843.57 295.44,842.99 298.51,842.37 301.58,841.71 304.64,841.01 307.71,840.26 310.78,839.48 313.84,838.66 316.91,837.80 319.98,836.91 323.04,835.98 326.11,835.01 329.18,834.02 332.24,833.00 335.31,831.96 338.38,830.90 341.45,829.82 344.51,828.74 347.58,827.64 350.65,826.55 353.71,825.47 356.78,824.39 359.85,823.33 362.91,822.30 365.98,821.30 369.05,820.33 372.11,819.40 375.18,818.52 378.25,817.70 381.31,816.94 384.38,816.24 387.45,815.61 390.51,815.05 393.58,814.58 396.65,814.18 399.72,813.87 402.78,813.65 405.85,813.51 408.92,813.47 411.98,813.51 415.05,813.65 418.12,813.87 421.18,814.18 424.25,814.58 427.32,815.05 430.38,815.61 433.45,816.24 436.52,816.94 439.58,817.70 442.65,818.52 445.72,819.40 448.78,820.33 451.85,821.30 454.92,822.30 457.98,823.33 461.05,824.39 464.12,825.47 467.19,826.55 470.25,827.64 473.32,828.74 476.39,829.82 479.45,830.90 482.52,831.96 485.59,833.00 488.65,834.02 491.72,835.01 494.79,835.98 497.85,836.91 500.92,837.80 503.99,838.66 507.05,839.48 510.12,840.26 513.19,841.01 516.25,841.71 519.32,842.37 522.39,842.99 525.46,843.57 528.52,844.12 531.59,844.62 534.66,845.09 537.72,845.53 540.79,845.93 543.86,846.30 546.92,846.63 549.99,846.94 553.06,847.22 556.12,847.48 559.19,847.71 562.26,847.92 565.32,848.10 568.39,848.27 571.46,848.42 574.52,848.56 577.59,848.68 580.66,848.79 583.72,848.88 586.79,848.96 589.86,849.04 592.93,849.10 595.99,849.16 599.06,849.20 602.13,849.25 605.19,849.28 608.26,849.32 611.33,849.34 614.39,849.37 617.46,849.39 620.53,849.41 623.59,849.42 626.66,849.43 629.73,849.44 632.79,849.45 635.86,849.46 638.93,849.47 641.99,849.47 645.06,849.48 648.13,849.48 651.20,849.49 654.26,849.49" fill="none" stroke="#A9A9A9" stroke-width="1.7" stroke-linejoin="round" stroke-linecap="square"/>
<polyline points="300.78,849.48 302.66,849.48 304.54,849.47 306.42,849.46 308.30,849.46 310.18,849.45 312.06,849.44 313.94,849.42 315.81,849.41 317.69,849.39 319.57,849.37 321.45,849.35 323.33,849.32 325.21,849.29 327.09,849.25 328.97,849.20 330.85,849.15 332.73,849.09 334.61,849.02 336.49,848.94 338.37,848.85 340.25,848.74 342.13,848.62 344.01,848.49 345.89,848.33 347.77,848.16 349.65,847.96 351.53,847.74 353.41,847.50 355.29,847.22 357.17,846.92 359.05,846.58 360.93,846.20 362.81,845.78 364.69,845.33 366.57,844.82 368.45,844.27 370.33,843.67 372.20,843.02 374.08,842.31 375.96,841.54 377.84,840.72 379.72,839.83 381.60,838.88 383.48,837.87 385.36,836.79 387.24,835.64 389.12,834.43 391.00,833.15 392.88,831.81 394.76,830.41 396.64,828.95 398.52,827.43 400.40,825.86 402.28,824.25 404.16,822.58 406.04,820.88 407.92,819.15 409.80,817.40 411.68,815.62 413.56,813.84 415.44,812.06 417.32,810.29 419.20,808.53 421.08,806.81 422.96,805.12 424.84,803.48 426.72,801.90 428.59,800.39 430.47,798.96 432.35,797.62 434.23,796.37 436.11,795.23 437.99,794.20 439.87,793.30 441.75,792.52 443.63,791.87 445.51,791.37 447.39,791.00 449.27,790.78 451.15,790.71 453.03,790.78 454.91,791.00 456.79,791.37 458.67,791.87 460.55,792.52 462.43,793.30 464.31,794.20 466.19,795.23 468.07,796.37 469.95,797.62 471.83,798.96 473.71,800.39 475.59,801.90 477.47,803.48 479.35,805.12 481.23,806.81 483.11,808.53 484.99,810.29 486.86,812.06 488.74,813.84 490.62,815.62 492.50,817.40 494.38,819.15 496.26,820.88 498.14,822.58 500.02,824.25 501.90,825.86 503.78,827.43 505.66,828.95 507.54,830.41 509.42,831.81 511.30,833.15 513.18,834.43 515.06,835.64 516.94,836.79 518.82,837.87 520.70,838.88 522.58,839.83 524.46,840.72 526.34,841.54 528.22,842.31 530.10,843.02 531.98,843.67 533.86,844.27 535.74,844.82 537.62,845.33 539.50,845.78 541.38,846.20 543.25,846.58 545.13,846.92 547.01,847.22 548.89,847.50 550.77,847.74 552.65,847.96 554.53,848.16 556.41,848.33 558.29,848.49 560.17,848.62 562.05,848.74 563.93,848.85 565.81,848.94 567.69,849.02 569.57,849.09 571.45,849.15 573.33,849.20 575.21,849.25 577.09,849.29 578.97,849.32 580.85,849.35 582.73,849.37 584.61,849.39 586.49,849.41 588.37,849.42 590.25,849.44 592.13,849.45 594.01,849.46 595.89,849.46 597.77,849.47 599.64,849.48 601.52,849.48" fill="none" stroke="#A9A9A9" stroke-width="1.7" stroke-linejoin="round" stroke-linecap="square"/>
<polyline points="250.86,849.49 253.36,849.48 255.86,849.48 258.37,849.47 260.87,849.47 263.37,849.46 265.88,849.45 268.38,849.44 270.89,849.43 273.39,849.42 275.89,849.40 278.40,849.39 280.90,849.36 283.40,849.34 285.91,849.31 288.41,849.28 290.91,849.24 293.42,849.19 295.92,849.14 298.43,849.08 300.93,849.01 303.43,848.93 305.94,848.84 308.44,848.74 310.94,848.62 313.45,848.49 315.95,848.35 318.46,848.18 320.96,848.00 323.46,847.79 325.97,847.56 328.47,847.31 330.97,847.02 333.48,846.71 335.98,846.37 338.48,845.99 340.99,845.58 343.49,845.12 346.00,844.63 348.50,844.10 351.00,843.53 353.51,842.91 356.01,842.24 358.51,841.53 361.02,840.77 363.52,839.95 366.03,839.09 368.53,838.19 371.03,837.23 373.54,836.22 376.04,835.17 378.54,834.07 381.05,832.93 383.55,831.76 386.06,830.54 388.56,829.29 391.06,828.02 393.57,826.72 396.07,825.40 398.57,824.07 401.08,822.73 403.58,821.39 406.08,820.06 408.59,818.74 411.09,817.45 413.60,816.18 416.10,814.95 418.60,813.77 421.11,812.63 423.61,811.56 426.11,810.55 428.62,809.61 431.12,808.76 433.63,807.98 436.13,807.30 438.63,806.72 441.14,806.24 443.64,805.86 446.14,805.58 448.65,805.42 451.15,805.36 453.65,805.42 456.16,805.58 458.66,805.86 461.17,806.24 463.67,806.72 466.17,807.30 468.68,807.98 471.18,808.76 473.68,809.61 476.19,810.55 478.69,811.56 481.20,812.63 483.70,813.77 486.20,814.95 488.71,816.18 491.21,817.45 493.71,818.74 496.22,820.06 498.72,821.39 501.22,822.73 503.73,824.07 506.23,825.40 508.74,826.72 511.24,828.02 513.74,829.29 516.25,830.54 518.75,831.76 521.25,832.93 523.76,834.07 526.26,835.17 528.77,836.22 531.27,837.23 533.77,838.19 536.28,839.09 538.78,839.95 541.28,840.77 543.79,841.53 546.29,842.24 548.79,842.91 551.30,843.53 553.80,844.10 556.31,844.63 558.81,845.12 561.31,845.58 563.82,845.99 566.32,846.37 568.82,846.71 571.33,847.02 573.83,847.31 576.34,847.56 578.84,847.79 581.34,848.00 583.85,848.18 586.35,848.35 588.85,848.49 591.36,848.62 593.86,848.74 596.37,848.84 598.87,848.93 601.37,849.01 603.88,849.08 606.38,849.14 608.88,849.19 611.39,849.24 613.89,849.28 616.39,849.31 618.90,849.34 621.40,849.36 623.91,849.39 626.41,849.40 628.91,849.42 631.42,849.43 633.92,849.44 636.42,849.45 638.93,849.46 641.43,849.47 643.94,849.47 646.44,849.48 648.94,849.48 651.45,849.49" fill="none" stroke="#A9A9A9" stroke-width="1.7" stroke-linejoin="round" stroke-linecap="square"/>
<polyline points="176.13,849.49 178.64,849.48 181.16,849.48 183.67,849.47 186.19,849.47 188.70,849.46 191.22,849.45 193.73,849.44 196.25,849.43 198.76,849.42 201.28,849.40 203.79,849.39 206.31,849.36 208.82,849.34 211.34,849.31 213.85,849.28 216.37,849.24 218.88,849.19 221.40,849.14 223.91,849.08 226.43,849.01 228.94,848.93 231.46,848.84 233.97,848.74 236.49,848.63 239.00,848.50 241.52,848.35 244.03,848.19 246.55,848.00 249.06,847.80 251.58,847.57 254.09,847.32 256.61,847.03 259.12,846.72 261.64,846.38 264.15,846.00 266.67,845.59 269.18,845.14 271.70,844.66 274.21,844.13 276.73,843.55 279.24,842.94 281.76,842.27 284.28,841.56 286.79,840.80 289.31,840.00 291.82,839.14 294.34,838.24 296.85,837.28 299.37,836.28 301.88,835.24 304.40,834.14 306.91,833.01 309.43,831.84 311.94,830.63 314.46,829.38 316.97,828.11 319.49,826.82 322.00,825.51 324.52,824.18 327.03,822.85 329.55,821.52 332.06,820.19 334.58,818.88 337.09,817.59 339.61,816.33 342.12,815.11 344.64,813.93 347.15,812.80 349.67,811.73 352.18,810.72 354.70,809.79 357.21,808.94 359.73,808.17 362.24,807.50 364.76,806.91 367.27,806.43 369.79,806.05 372.30,805.78 374.82,805.62 377.33,805.56 379.85,805.62 382.36,805.78 384.88,806.05 387.39,806.43 389.91,806.91 392.42,807.50 394.94,808.17 397.45,808.94 399.97,809.79 402.49,810.72 405.00,811.73 407.52,812.80 410.03,813.93 412.55,815.11 415.06,816.33 417.58,817.59 420.09,818.88 422.61,820.19 425.12,821.52 427.64,822.85 430.15,824.18 432.67,825.51 435.18,826.82 437.70,828.11 440.21,829.38 442.73,830.63 445.24,831.84 447.76,833.01 450.27,834.14 452.79,835.24 455.30,836.28 457.82,837.28 460.33,838.24 462.85,839.14 465.36,840.00 467.88,840.80 470.39,841.56 472.91,842.27 475.42,842.94 477.94,843.55 480.45,844.13 482.97,844.66 485.48,845.14 488.00,845.59 490.51,846.00 493.03,846.38 495.54,846.72 498.06,847.03 500.57,847.32 503.09,847.57 505.60,847.80 508.12,848.00 510.63,848.19 513.15,848.35 515.66,848.50 518.18,848.63 520.69,848.74 523.21,848.84 525.73,848.93 528.24,849.01 530.76,849.08 533.27,849.14 535.79,849.19 538.30,849.24 540.82,849.28 543.33,849.31 545.85,849.34 548.36,849.36 550.88,849.39 553.39,849.40 555.91,849.42 558.42,849.43 560.94,849.44 563.45,849.45 565.97,849.46 568.48,849.47 571.00,849.47 573.51,849.48 576.03,849.48 578.54,849.49" fill="none" stroke="#A9A9A9" stroke-width="1.7" stroke-linejoin="round" stroke-linecap="square"/>
<polyline points="40.90,849.49 44.76,849.49 48.63,849.49 52.49,849.48 56.36,849.48 60.23,849.47 64.09,849.47 67.96,849.46 71.82,849.46 75.69,849.45 79.55,849.44 83.42,849.43 87.29,849.41 91.15,849.40 95.02,849.38 98.88,849.35 102.75,849.33 106.62,849.30 110.48,849.27 114.35,849.23 118.21,849.18 122.08,849.13 125.95,849.07 129.81,849.01 133.68,848.93 137.54,848.85 141.41,848.75 145.27,848.65 149.14,848.53 153.01,848.39 156.87,848.24 160.74,848.08 164.60,847.90 168.47,847.69 172.34,847.47 176.20,847.23 180.07,846.96 183.93,846.67 187.80,846.35 191.67,846.00 195.53,845.63 199.40,845.23 203.26,844.80 207.13,844.34 210.99,843.84 214.86,843.32 218.73,842.76 222.59,842.17 226.46,841.55 230.32,840.90 234.19,840.22 238.06,839.51 241.92,838.77 245.79,838.01 249.65,837.22 253.52,836.41 257.39,835.59 261.25,834.74 265.12,833.89 268.98,833.03 272.85,832.16 276.71,831.30 280.58,830.43 284.45,829.58 288.31,828.74 292.18,827.92 296.04,827.13 299.91,826.36 303.78,825.62 307.64,824.93 311.51,824.27 315.37,823.67 319.24,823.11 323.11,822.61 326.97,822.17 330.84,821.79 334.70,821.48 338.57,821.23 342.43,821.06 346.30,820.95 350.17,820.91 354.03,820.95 357.90,821.06 361.76,821.23 365.63,821.48 369.50,821.79 373.36,822.17 377.23,822.61 381.09,823.11 384.96,823.67 388.83,824.27 392.69,824.93 396.56,825.62 400.42,826.36 404.29,827.13 408.15,827.92 412.02,828.74 415.89,829.58 419.75,830.43 423.62,831.30 427.48,832.16 431.35,833.03 435.22,833.89 439.08,834.74 442.95,835.59 446.81,836.41 450.68,837.22 454.55,838.01 458.41,838.77 462.28,839.51 466.14,840.22 470.01,840.90 473.87,841.55 477.74,842.17 481.61,842.76 485.47,843.32 489.34,843.84 493.20,844.34 497.07,844.80 500.94,845.23 504.80,845.63 508.67,846.00 512.53,846.35 516.40,846.67 520.27,846.96 524.13,847.23 528.00,847.47 531.86,847.69 535.73,847.90 539.59,848.08 543.46,848.24 547.33,848.39 551.19,848.53 555.06,848.65 558.92,848.75 562.79,848.85 566.66,848.93 570.52,849.01 574.39,849.07 578.25,849.13 582.12,849.18 585.98,849.23 589.85,849.27 593.72,849.30 597.58,849.33 601.45,849.35 605.31,849.38 609.18,849.40 613.05,849.41 616.91,849.43 620.78,849.44 624.64,849.45 628.51,849.46 632.38,849.46 636.24,849.47 640.11,849.47 643.97,849.48 647.84,849.48 651.70,849.49 655.57,849.49 659.44,849.49" fill="none" stroke="#A9A9A9" stroke-width="1.7" stroke-linejoin="round" stroke-linecap="square"/>
<polyline points="-135.81,849.49 -130.89,849.49 -125.98,849.49 -121.06,849.49 -116.14,849.48 -111.23,849.48 -106.31,849.48 -101.40,849.47 -96.48,849.47 -91.56,849.46 -86.65,849.45 -81.73,849.44 -76.82,849.43 -71.90,849.42 -66.98,849.40 -62.07,849.39 -57.15,849.37 -52.24,849.34 -47.32,849.32 -42.40,849.29 -37.49,849.25 -32.57,849.21 -27.65,849.16 -22.74,849.11 -17.82,849.05 -12.91,848.99 -7.99,848.91 -3.07,848.83 1.84,848.73 6.76,848.63 11.67,848.51 16.59,848.38 21.51,848.24 26.42,848.08 31.34,847.90 36.25,847.71 41.17,847.50 46.09,847.27 51.00,847.02 55.92,846.75 60.83,846.46 65.75,846.14 70.67,845.80 75.58,845.44 80.50,845.05 85.41,844.64 90.33,844.20 95.25,843.74 100.16,843.25 105.08,842.74 109.99,842.20 114.91,841.64 119.83,841.06 124.74,840.46 129.66,839.84 134.58,839.21 139.49,838.56 144.41,837.90 149.32,837.22 154.24,836.55 159.16,835.87 164.07,835.18 168.99,834.51 173.90,833.84 178.82,833.18 183.74,832.53 188.65,831.91 193.57,831.30 198.48,830.72 203.40,830.18 208.32,829.66 213.23,829.19 218.15,828.75 223.06,828.36 227.98,828.01 232.90,827.71 237.81,827.47 242.73,827.27 247.64,827.13 252.56,827.05 257.48,827.02 262.39,827.05 267.31,827.13 272.22,827.27 277.14,827.47 282.06,827.71 286.97,828.01 291.89,828.36 296.80,828.75 301.72,829.19 306.64,829.66 311.55,830.18 316.47,830.72 321.39,831.30 326.30,831.91 331.22,832.53 336.13,833.18 341.05,833.84 345.97,834.51 350.88,835.18 355.80,835.87 360.71,836.55 365.63,837.22 370.55,837.90 375.46,838.56 380.38,839.21 385.29,839.84 390.21,840.46 395.13,841.06 400.04,841.64 404.96,842.20 409.87,842.74 414.79,843.25 419.71,843.74 424.62,844.20 429.54,844.64 434.45,845.05 439.37,845.44 444.29,845.80 449.20,846.14 454.12,846.46 459.03,846.75 463.95,847.02 468.87,847.27 473.78,847.50 478.70,847.71 483.62,847.90 488.53,848.08 493.45,848.24 498.36,848.38 503.28,848.51 508.20,848.63 513.11,848.73 518.03,848.83 522.94,848.91 527.86,848.99 532.78,849.05 537.69,849.11 542.61,849.16 547.52,849.21 552.44,849.25 557.36,849.29 562.27,849.32 567.19,849.34 572.10,849.37 577.02,849.39 581.94,849.40 586.85,849.42 591.77,849.43 596.68,849.44 601.60,849.45 606.52,849.46 611.43,849.47 616.35,849.47 621.26,849.48 626.18,849.48 631.10,849.48 636.01,849.49 640.93,849.49 645.85,849.49 650.76,849.49" fill="none" stroke="#A9A9A9" stroke-width="1.7" stroke-linejoin="round" stroke-linecap="square"/>
<polyline points="55.66,849.49 60.04,849.49 64.42,849.49 68.80,849.48 73.18,849.48 77.56,849.48 81.94,849.47 86.32,849.47 90.70,849.46 95.08,849.45 99.45,849.44 103.83,849.43 108.21,849.42 112.59,849.41 116.97,849.39 121.35,849.37 125.73,849.35 130.11,849.32 134.49,849.29 138.87,849.26 143.25,849.22 147.63,849.17 152.01,849.12 156.39,849.07 160.77,849.00 165.15,848.92 169.53,848.84 173.91,848.75 178.29,848.64 182.67,848.52 187.05,848.39 191.43,848.25 195.81,848.08 200.18,847.90 204.56,847.71 208.94,847.49 213.32,847.26 217.70,847.00 222.08,846.72 226.46,846.41 230.84,846.09 235.22,845.73 239.60,845.35 243.98,844.94 248.36,844.51 252.74,844.04 257.12,843.55 261.50,843.03 265.88,842.48 270.26,841.91 274.64,841.31 279.02,840.68 283.40,840.03 287.78,839.36 292.16,838.66 296.53,837.95 300.91,837.22 305.29,836.47 309.67,835.72 314.05,834.96 318.43,834.20 322.81,833.43 327.19,832.67 331.57,831.92 335.95,831.18 340.33,830.45 344.71,829.75 349.09,829.07 353.47,828.42 357.85,827.81 362.23,827.23 366.61,826.70 370.99,826.21 375.37,825.77 379.75,825.38 384.13,825.04 388.51,824.77 392.89,824.55 397.26,824.39 401.64,824.30 406.02,824.27 410.40,824.30 414.78,824.39 419.16,824.55 423.54,824.77 427.92,825.04 432.30,825.38 436.68,825.77 441.06,826.21 445.44,826.70 449.82,827.23 454.20,827.81 458.58,828.42 462.96,829.07 467.34,829.75 471.72,830.45 476.10,831.18 480.48,831.92 484.86,832.67 489.24,833.43 493.61,834.20 497.99,834.96 502.37,835.72 506.75,836.47 511.13,837.22 515.51,837.95 519.89,838.66 524.27,839.36 528.65,840.03 533.03,840.68 537.41,841.31 541.79,841.91 546.17,842.48 550.55,843.03 554.93,843.55 559.31,844.04 563.69,844.51 568.07,844.94 572.45,845.35 576.83,845.73 581.21,846.09 585.59,846.41 589.97,846.72 594.34,847.00 598.72,847.26 603.10,847.49 607.48,847.71 611.86,847.90 616.24,848.08 620.62,848.25 625.00,848.39 629.38,848.52 633.76,848.64 638.14,848.75 642.52,848.84 646.90,848.92 651.28,849.00 655.66,849.07 660.04,849.12 664.42,849.17 668.80,849.22 673.18,849.26 677.56,849.29 681.94,849.32 686.32,849.35 690.69,849.37 695.07,849.39 699.45,849.41 703.83,849.42 708.21,849.43 712.59,849.44 716.97,849.45 721.35,849.46 725.73,849.47 730.11,849.47 734.49,849.48 738.87,849.48 743.25,849.48 747.63,849.49 752.01,849.49 756.39,849.49" fill="none" stroke="#A9A9A9" stroke-width="1.7" stroke-linejoin="round" stroke-linecap="square"/>
<polyline points="-352.69,849.49 -345.40,849.49 -338.10,849.49 -330.80,849.49 -323.50,849.49 -316.20,849.49 -308.91,849.48 -301.61,849.48 -294.31,849.48 -287.01,849.47 -279.71,849.47 -272.42,849.46 -265.12,849.45 -257.82,849.44 -250.52,849.43 -243.22,849.42 -235.93,849.41 -228.63,849.39 -221.33,849.38 -214.03,849.36 -206.73,849.33 -199.44,849.30 -192.14,849.27 -184.84,849.24 -177.54,849.20 -170.24,849.15 -162.95,849.10 -155.65,849.05 -148.35,848.98 -141.05,848.91 -133.75,848.83 -126.46,848.75 -119.16,848.65 -111.86,848.54 -104.56,848.42 -97.26,848.30 -89.97,848.15 -82.67,848.00 -75.37,847.83 -68.07,847.65 -60.77,847.45 -53.48,847.24 -46.18,847.01 -38.88,846.76 -31.58,846.50 -24.28,846.23 -16.99,845.93 -9.69,845.62 -2.39,845.29 4.91,844.94 12.21,844.58 19.50,844.21 26.80,843.82 34.10,843.41 41.40,843.00 48.70,842.57 55.99,842.13 63.29,841.68 70.59,841.23 77.89,840.77 85.19,840.32 92.48,839.86 99.78,839.40 107.08,838.95 114.38,838.50 121.68,838.07 128.97,837.65 136.27,837.24 143.57,836.85 150.87,836.48 158.17,836.14 165.46,835.82 172.76,835.52 180.06,835.26 187.36,835.02 194.66,834.82 201.95,834.66 209.25,834.53 216.55,834.43 223.85,834.38 231.15,834.36 238.44,834.38 245.74,834.43 253.04,834.53 260.34,834.66 267.64,834.82 274.93,835.02 282.23,835.26 289.53,835.52 296.83,835.82 304.13,836.14 311.42,836.48 318.72,836.85 326.02,837.24 333.32,837.65 340.62,838.07 347.91,838.50 355.21,838.95 362.51,839.40 369.81,839.86 377.11,840.32 384.40,840.77 391.70,841.23 399.00,841.68 406.30,842.13 413.60,842.57 420.89,843.00 428.19,843.41 435.49,843.82 442.79,844.21 450.09,844.58 457.38,844.94 464.68,845.29 471.98,845.62 479.28,845.93 486.58,846.23 493.87,846.50 501.17,846.76 508.47,847.01 515.77,847.24 523.07,847.45 530.36,847.65 537.66,847.83 544.96,848.00 552.26,848.15 559.56,848.30 566.85,848.42 574.15,848.54 581.45,848.65 588.75,848.75 596.05,848.83 603.34,848.91 610.64,848.98 617.94,849.05 625.24,849.10 632.54,849.15 639.83,849.20 647.13,849.24 654.43,849.27 661.73,849.30 669.03,849.33 676.32,849.36 683.62,849.38 690.92,849.39 698.22,849.41 705.52,849.42 712.81,849.43 720.11,849.44 727.41,849.45 734.71,849.46 742.01,849.47 749.30,849.47 756.60,849.48 763.90,849.48 771.20,849.48 778.50,849.49 785.79,849.49 793.09,849.49 800.39,849.49 807.69,849.49 814.99,849.49" fill="none" stroke="#A9A9A9" stroke-width="1.7" stroke-linejoin="round" stroke-linecap="square"/>
<polyline points="8.40,849.49 12.04,849.49 15.68,849.48 19.31,849.48 22.95,849.48 26.59,849.47 30.23,849.47 33.86,849.46 37.50,849.45 41.14,849.44 44.78,849.43 48.41,849.42 52.05,849.41 55.69,849.39 59.33,849.37 62.96,849.35 66.60,849.32 70.24,849.29 73.88,849.25 77.52,849.21 81.15,849.16 84.79,849.11 88.43,849.05 92.07,848.98 95.70,848.90 99.34,848.81 102.98,848.71 106.62,848.59 110.25,848.47 113.89,848.32 117.53,848.17 121.17,847.99 124.80,847.79 128.44,847.58 132.08,847.34 135.72,847.08 139.35,846.80 142.99,846.49 146.63,846.15 150.27,845.78 153.90,845.39 157.54,844.96 161.18,844.50 164.82,844.01 168.45,843.49 172.09,842.93 175.73,842.34 179.37,841.71 183.01,841.05 186.64,840.36 190.28,839.64 193.92,838.88 197.56,838.10 201.19,837.29 204.83,836.45 208.47,835.59 212.11,834.71 215.74,833.82 219.38,832.91 223.02,831.99 226.66,831.07 230.29,830.15 233.93,829.24 237.57,828.33 241.21,827.44 244.84,826.57 248.48,825.72 252.12,824.91 255.76,824.12 259.39,823.38 263.03,822.69 266.67,822.05 270.31,821.46 273.94,820.93 277.58,820.46 281.22,820.05 284.86,819.72 288.49,819.46 292.13,819.27 295.77,819.16 299.41,819.12 303.05,819.16 306.68,819.27 310.32,819.46 313.96,819.72 317.60,820.05 321.23,820.46 324.87,820.93 328.51,821.46 332.15,822.05 335.78,822.69 339.42,823.38 343.06,824.12 346.70,824.91 350.33,825.72 353.97,826.57 357.61,827.44 361.25,828.33 364.88,829.24 368.52,830.15 372.16,831.07 375.80,831.99 379.43,832.91 383.07,833.82 386.71,834.71 390.35,835.59 393.98,836.45 397.62,837.29 401.26,838.10 404.90,838.88 408.54,839.64 412.17,840.36 415.81,841.05 419.45,841.71 423.09,842.34 426.72,842.93 430.36,843.49 434.00,844.01 437.64,844.50 441.27,844.96 444.91,845.39 448.55,845.78 452.19,846.15 455.82,846.49 459.46,846.80 463.10,847.08 466.74,847.34 470.37,847.58 474.01,847.79 477.65,847.99 481.29,848.17 484.92,848.32 488.56,848.47 492.20,848.59 495.84,848.71 499.47,848.81 503.11,848.90 506.75,848.98 510.39,849.05 514.02,849.11 517.66,849.16 521.30,849.21 524.94,849.25 528.58,849.29 532.21,849.32 535.85,849.35 539.49,849.37 543.13,849.39 546.76,849.41 550.40,849.42 554.04,849.43 557.68,849.44 561.31,849.45 564.95,849.46 568.59,849.47 572.23,849.47 575.86,849.48 579.50,849.48 583.14,849.48 586.78,849.49 590.41,849.49" fill="none" stroke="#A9A9A9" stroke-width="1.7" stroke-linejoin="round" stroke-linecap="square"/>
<polyline points="224.53,849.48 226.13,849.47 227.74,849.47 229.34,849.46 230.95,849.45 232.55,849.44 234.16,849.43 235.77,849.41 237.37,849.39 238.98,849.37 240.58,849.35 242.19,849.32 243.79,849.29 245.40,849.25 247.01,849.20 248.61,849.15 250.22,849.09 251.82,849.02 253.43,848.94 255.03,848.84 256.64,848.74 258.25,848.61 259.85,848.47 261.46,848.31 263.06,848.13 264.67,847.93 266.27,847.70 267.88,847.44 269.49,847.16 271.09,846.83 272.70,846.48 274.30,846.08 275.91,845.64 277.51,845.15 279.12,844.61 280.73,844.02 282.33,843.38 283.94,842.68 285.54,841.91 287.15,841.08 288.75,840.19 290.36,839.22 291.97,838.18 293.57,837.07 295.18,835.88 296.78,834.62 298.39,833.28 299.99,831.86 301.60,830.36 303.20,828.80 304.81,827.16 306.42,825.45 308.02,823.67 309.63,821.83 311.23,819.94 312.84,817.99 314.44,816.00 316.05,813.97 317.66,811.92 319.26,809.84 320.87,807.76 322.47,805.67 324.08,803.60 325.68,801.54 327.29,799.52 328.90,797.55 330.50,795.63 332.11,793.78 333.71,792.01 335.32,790.34 336.92,788.76 338.53,787.30 340.14,785.97 341.74,784.77 343.35,783.71 344.95,782.80 346.56,782.04 348.16,781.45 349.77,781.02 351.38,780.76 352.98,780.68 354.59,780.76 356.19,781.02 357.80,781.45 359.40,782.04 361.01,782.80 362.62,783.71 364.22,784.77 365.83,785.97 367.43,787.30 369.04,788.76 370.64,790.34 372.25,792.01 373.86,793.78 375.46,795.63 377.07,797.55 378.67,799.52 380.28,801.54 381.88,803.60 383.49,805.67 385.10,807.76 386.70,809.84 388.31,811.92 389.91,813.97 391.52,816.00 393.12,817.99 394.73,819.94 396.34,821.83 397.94,823.67 399.55,825.45 401.15,827.16 402.76,828.80 404.36,830.36 405.97,831.86 407.58,833.28 409.18,834.62 410.79,835.88 412.39,837.07 414.00,838.18 415.60,839.22 417.21,840.19 418.82,841.08 420.42,841.91 422.03,842.68 423.63,843.38 425.24,844.02 426.84,844.61 428.45,845.15 430.06,845.64 431.66,846.08 433.27,846.48 434.87,846.83 436.48,847.16 438.08,847.44 439.69,847.70 441.30,847.93 442.90,848.13 444.51,848.31 446.11,848.47 447.72,848.61 449.32,848.74 450.93,848.84 452.54,848.94 454.14,849.02 455.75,849.09 457.35,849.15 458.96,849.20 460.56,849.25 462.17,849.29 463.78,849.32 465.38,849.35 466.99,849.37 468.59,849.39 470.20,849.41 471.80,849.43 473.41,849.44 475.02,849.45 476.62,849.46 478.23,849.47 479.83,849.47 481.44,849.48" fill="none" stroke="#EE82EE" stroke-width="1.7" stroke-linejoin="round" stroke-linecap="square"/>
<polyline points="247.36,849.48 249.05,849.47 250.74,849.47 252.43,849.46 254.13,849.45 255.82,849.44 257.51,849.43 259.21,849.42 260.90,849.40 262.59,849.38 264.29,849.36 265.98,849.33 267.67,849.30 269.37,849.26 271.06,849.22 272.75,849.17 274.45,849.11 276.14,849.04 277.83,848.97 279.53,848.88 281.22,848.77 282.91,848.66 284.61,848.53 286.30,848.38 287.99,848.21 289.69,848.01 291.38,847.80 293.07,847.55 294.77,847.28 296.46,846.97 298.15,846.63 299.85,846.25 301.54,845.84 303.23,845.37 304.92,844.87 306.62,844.31 308.31,843.70 310.00,843.03 311.70,842.30 313.39,841.52 315.08,840.67 316.78,839.75 318.47,838.77 320.16,837.71 321.86,836.58 323.55,835.39 325.24,834.11 326.94,832.77 328.63,831.35 330.32,829.87 332.02,828.31 333.71,826.69 335.40,825.01 337.10,823.26 338.79,821.46 340.48,819.62 342.18,817.73 343.87,815.81 345.56,813.86 347.26,811.89 348.95,809.91 350.64,807.94 352.34,805.97 354.03,804.02 355.72,802.11 357.41,800.24 359.11,798.42 360.80,796.66 362.49,794.99 364.19,793.40 365.88,791.90 367.57,790.52 369.27,789.25 370.96,788.11 372.65,787.11 374.35,786.24 376.04,785.53 377.73,784.96 379.43,784.56 381.12,784.32 382.81,784.23 384.51,784.32 386.20,784.56 387.89,784.96 389.59,785.53 391.28,786.24 392.97,787.11 394.67,788.11 396.36,789.25 398.05,790.52 399.75,791.90 401.44,793.40 403.13,794.99 404.83,796.66 406.52,798.42 408.21,800.24 409.90,802.11 411.60,804.02 413.29,805.97 414.98,807.94 416.68,809.91 418.37,811.89 420.06,813.86 421.76,815.81 423.45,817.73 425.14,819.62 426.84,821.46 428.53,823.26 430.22,825.01 431.92,826.69 433.61,828.31 435.30,829.87 437.00,831.35 438.69,832.77 440.38,834.11 442.08,835.39 443.77,836.58 445.46,837.71 447.16,838.77 448.85,839.75 450.54,840.67 452.24,841.52 453.93,842.30 455.62,843.03 457.32,843.70 459.01,844.31 460.70,844.87 462.39,845.37 464.09,845.84 465.78,846.25 467.47,846.63 469.17,846.97 470.86,847.28 472.55,847.55 474.25,847.80 475.94,848.01 477.63,848.21 479.33,848.38 481.02,848.53 482.71,848.66 484.41,848.77 486.10,848.88 487.79,848.97 489.49,849.04 491.18,849.11 492.87,849.17 494.57,849.22 496.26,849.26 497.95,849.30 499.65,849.33 501.34,849.36 503.03,849.38 504.73,849.40 506.42,849.42 508.11,849.43 509.81,849.44 511.50,849.45 513.19,849.46 514.88,849.47 516.58,849.47 518.27,849.48" fill="none" stroke="#EE82EE" stroke-width="1.7" stroke-linejoin="round" stroke-linecap="square"/>
<polyline points="234.42,849.48 236.63,849.48 238.85,849.48 241.06,849.47 243.28,849.46 245.49,849.46 247.71,849.45 249.92,849.44 252.13,849.42 254.35,849.41 256.56,849.39 258.78,849.37 260.99,849.35 263.21,849.32 265.42,849.28 267.64,849.25 269.85,849.20 272.06,849.15 274.28,849.09 276.49,849.02 278.71,848.95 280.92,848.86 283.14,848.76 285.35,848.64 287.57,848.51 289.78,848.36 292.00,848.20 294.21,848.01 296.42,847.80 298.64,847.57 300.85,847.31 303.07,847.02 305.28,846.70 307.50,846.35 309.71,845.96 311.93,845.53 314.14,845.06 316.36,844.55 318.57,844.00 320.78,843.40 323.00,842.75 325.21,842.05 327.43,841.29 329.64,840.49 331.86,839.62 334.07,838.71 336.29,837.74 338.50,836.71 340.71,835.63 342.93,834.49 345.14,833.30 347.36,832.06 349.57,830.77 351.79,829.44 354.00,828.06 356.22,826.65 358.43,825.21 360.65,823.74 362.86,822.25 365.07,820.74 367.29,819.23 369.50,817.72 371.72,816.22 373.93,814.73 376.15,813.26 378.36,811.83 380.58,810.44 382.79,809.10 385.00,807.82 387.22,806.60 389.43,805.46 391.65,804.40 393.86,803.43 396.08,802.56 398.29,801.79 400.51,801.13 402.72,800.59 404.94,800.16 407.15,799.85 409.36,799.66 411.58,799.60 413.79,799.66 416.01,799.85 418.22,800.16 420.44,800.59 422.65,801.13 424.87,801.79 427.08,802.56 429.30,803.43 431.51,804.40 433.72,805.46 435.94,806.60 438.15,807.82 440.37,809.10 442.58,810.44 444.80,811.83 447.01,813.26 449.23,814.73 451.44,816.22 453.65,817.72 455.87,819.23 458.08,820.74 460.30,822.25 462.51,823.74 464.73,825.21 466.94,826.65 469.16,828.06 471.37,829.44 473.59,830.77 475.80,832.06 478.01,833.30 480.23,834.49 482.44,835.63 484.66,836.71 486.87,837.74 489.09,838.71 491.30,839.62 493.52,840.49 495.73,841.29 497.94,842.05 500.16,842.75 502.37,843.40 504.59,844.00 506.80,844.55 509.02,845.06 511.23,845.53 513.45,845.96 515.66,846.35 517.88,846.70 520.09,847.02 522.30,847.31 524.52,847.57 526.73,847.80 528.95,848.01 531.16,848.20 533.38,848.36 535.59,848.51 537.81,848.64 540.02,848.76 542.24,848.86 544.45,848.95 546.66,849.02 548.88,849.09 551.09,849.15 553.31,849.20 555.52,849.25 557.74,849.28 559.95,849.32 562.17,849.35 564.38,849.37 566.59,849.39 568.81,849.41 571.02,849.42 573.24,849.44 575.45,849.45 577.67,849.46 579.88,849.46 582.10,849.47 584.31,849.48 586.53,849.48 588.74,849.48" fill="none" stroke="#EE82EE" stroke-width="1.7" stroke-linejoin="round" stroke-linecap="square"/>
<polyline points="185.71,849.48 187.51,849.47 189.30,849.47 191.09,849.46 192.88,849.45 194.67,849.45 196.47,849.43 198.26,849.42 200.05,849.41 201.84,849.39 203.64,849.37 205.43,849.34 207.22,849.31 209.01,849.27 210.80,849.23 212.60,849.19 214.39,849.13 216.18,849.07 217.97,849.00 219.77,848.91 221.56,848.81 223.35,848.71 225.14,848.58 226.93,848.44 228.73,848.28 230.52,848.09 232.31,847.89 234.10,847.66 235.89,847.40 237.69,847.11 239.48,846.79 241.27,846.43 243.06,846.04 244.86,845.60 246.65,845.12 248.44,844.59 250.23,844.02 252.02,843.39 253.82,842.70 255.61,841.96 257.40,841.15 259.19,840.29 260.98,839.36 262.78,838.36 264.57,837.30 266.36,836.16 268.15,834.96 269.95,833.69 271.74,832.36 273.53,830.95 275.32,829.48 277.11,827.95 278.91,826.36 280.70,824.71 282.49,823.01 284.28,821.27 286.07,819.49 287.87,817.67 289.66,815.83 291.45,813.97 293.24,812.10 295.04,810.23 296.83,808.37 298.62,806.53 300.41,804.72 302.20,802.95 304.00,801.24 305.79,799.58 307.58,798.00 309.37,796.49 311.17,795.08 312.96,793.78 314.75,792.58 316.54,791.50 318.33,790.55 320.13,789.73 321.92,789.06 323.71,788.53 325.50,788.15 327.29,787.91 329.09,787.84 330.88,787.91 332.67,788.15 334.46,788.53 336.26,789.06 338.05,789.73 339.84,790.55 341.63,791.50 343.42,792.58 345.22,793.78 347.01,795.08 348.80,796.49 350.59,798.00 352.38,799.58 354.18,801.24 355.97,802.95 357.76,804.72 359.55,806.53 361.35,808.37 363.14,810.23 364.93,812.10 366.72,813.97 368.51,815.83 370.31,817.67 372.10,819.49 373.89,821.27 375.68,823.01 377.47,824.71 379.27,826.36 381.06,827.95 382.85,829.48 384.64,830.95 386.44,832.36 388.23,833.69 390.02,834.96 391.81,836.16 393.60,837.30 395.40,838.36 397.19,839.36 398.98,840.29 400.77,841.15 402.56,841.96 404.36,842.70 406.15,843.39 407.94,844.02 409.73,844.59 411.53,845.12 413.32,845.60 415.11,846.04 416.90,846.43 418.69,846.79 420.49,847.11 422.28,847.40 424.07,847.66 425.86,847.89 427.66,848.09 429.45,848.28 431.24,848.44 433.03,848.58 434.82,848.71 436.62,848.81 438.41,848.91 440.20,849.00 441.99,849.07 443.78,849.13 445.58,849.19 447.37,849.23 449.16,849.27 450.95,849.31 452.75,849.34 454.54,849.37 456.33,849.39 458.12,849.41 459.91,849.42 461.71,849.43 463.50,849.45 465.29,849.45 467.08,849.46 468.87,849.47 470.67,849.47 472.46,849.48" fill="none" stroke="#87CEFA" stroke-width="1.7" stroke-linejoin="round" stroke-linecap="square"/>
<polyline points="60.23,849.49 63.78,849.49 67.34,849.48 70.90,849.48 74.46,849.48 78.01,849.47 81.57,849.47 85.13,849.46 88.69,849.45 92.24,849.44 95.80,849.43 99.36,849.42 102.92,849.40 106.48,849.39 110.03,849.37 113.59,849.34 117.15,849.31 120.71,849.28 124.26,849.25 127.82,849.20 131.38,849.15 134.94,849.10 138.49,849.04 142.05,848.96 145.61,848.88 149.17,848.79 152.72,848.69 156.28,848.57 159.84,848.44 163.40,848.30 166.96,848.14 170.51,847.96 174.07,847.76 177.63,847.54 181.19,847.29 184.74,847.03 188.30,846.74 191.86,846.42 195.42,846.08 198.97,845.70 202.53,845.30 206.09,844.86 209.65,844.39 213.21,843.89 216.76,843.35 220.32,842.78 223.88,842.18 227.44,841.54 230.99,840.86 234.55,840.16 238.11,839.42 241.67,838.64 245.22,837.84 248.78,837.01 252.34,836.16 255.90,835.28 259.46,834.38 263.01,833.47 266.57,832.54 270.13,831.60 273.69,830.66 277.24,829.72 280.80,828.78 284.36,827.86 287.92,826.94 291.47,826.05 295.03,825.19 298.59,824.35 302.15,823.55 305.70,822.80 309.26,822.09 312.82,821.43 316.38,820.83 319.94,820.28 323.49,819.80 327.05,819.39 330.61,819.05 334.17,818.79 337.72,818.59 341.28,818.48 344.84,818.44 348.40,818.48 351.95,818.59 355.51,818.79 359.07,819.05 362.63,819.39 366.19,819.80 369.74,820.28 373.30,820.83 376.86,821.43 380.42,822.09 383.97,822.80 387.53,823.55 391.09,824.35 394.65,825.19 398.20,826.05 401.76,826.94 405.32,827.86 408.88,828.78 412.44,829.72 415.99,830.66 419.55,831.60 423.11,832.54 426.67,833.47 430.22,834.38 433.78,835.28 437.34,836.16 440.90,837.01 444.45,837.84 448.01,838.64 451.57,839.42 455.13,840.16 458.68,840.86 462.24,841.54 465.80,842.18 469.36,842.78 472.92,843.35 476.47,843.89 480.03,844.39 483.59,844.86 487.15,845.30 490.70,845.70 494.26,846.08 497.82,846.42 501.38,846.74 504.93,847.03 508.49,847.29 512.05,847.54 515.61,847.76 519.17,847.96 522.72,848.14 526.28,848.30 529.84,848.44 533.40,848.57 536.95,848.69 540.51,848.79 544.07,848.88 547.63,848.96 551.18,849.04 554.74,849.10 558.30,849.15 561.86,849.20 565.42,849.25 568.97,849.28 572.53,849.31 576.09,849.34 579.65,849.37 583.20,849.39 586.76,849.40 590.32,849.42 593.88,849.43 597.43,849.44 600.99,849.45 604.55,849.46 608.11,849.47 611.66,849.47 615.22,849.48 618.78,849.48 622.34,849.48 625.90,849.49 629.45,849.49" fill="none" stroke="#87CEFA" stroke-width="1.7" stroke-linejoin="round" stroke-linecap="square"/>
<polyline points="64.56,849.49 68.20,849.49 71.83,849.48 75.46,849.48 79.10,849.48 82.73,849.47 86.37,849.47 90.00,849.46 93.63,849.45 97.27,849.44 100.90,849.43 104.53,849.42 108.17,849.41 111.80,849.39 115.44,849.37 119.07,849.35 122.70,849.32 126.34,849.29 129.97,849.25 133.60,849.21 137.24,849.16 140.87,849.11 144.51,849.05 148.14,848.98 151.77,848.90 155.41,848.81 159.04,848.71 162.67,848.59 166.31,848.46 169.94,848.32 173.58,848.16 177.21,847.99 180.84,847.79 184.48,847.58 188.11,847.34 191.75,847.08 195.38,846.80 199.01,846.49 202.65,846.15 206.28,845.78 209.91,845.38 213.55,844.96 217.18,844.50 220.82,844.01 224.45,843.48 228.08,842.92 231.72,842.33 235.35,841.70 238.98,841.04 242.62,840.35 246.25,839.63 249.89,838.87 253.52,838.09 257.15,837.27 260.79,836.44 264.42,835.58 268.05,834.70 271.69,833.80 275.32,832.89 278.96,831.98 282.59,831.05 286.22,830.13 289.86,829.22 293.49,828.31 297.12,827.42 300.76,826.54 304.39,825.70 308.03,824.88 311.66,824.10 315.29,823.36 318.93,822.66 322.56,822.02 326.19,821.43 329.83,820.90 333.46,820.43 337.10,820.02 340.73,819.69 344.36,819.43 348.00,819.24 351.63,819.13 355.27,819.09 358.90,819.13 362.53,819.24 366.17,819.43 369.80,819.69 373.43,820.02 377.07,820.43 380.70,820.90 384.34,821.43 387.97,822.02 391.60,822.66 395.24,823.36 398.87,824.10 402.50,824.88 406.14,825.70 409.77,826.54 413.41,827.42 417.04,828.31 420.67,829.22 424.31,830.13 427.94,831.05 431.57,831.98 435.21,832.89 438.84,833.80 442.48,834.70 446.11,835.58 449.74,836.44 453.38,837.27 457.01,838.09 460.64,838.87 464.28,839.63 467.91,840.35 471.55,841.04 475.18,841.70 478.81,842.33 482.45,842.92 486.08,843.48 489.71,844.01 493.35,844.50 496.98,844.96 500.62,845.38 504.25,845.78 507.88,846.15 511.52,846.49 515.15,846.80 518.78,847.08 522.42,847.34 526.05,847.58 529.69,847.79 533.32,847.99 536.95,848.16 540.59,848.32 544.22,848.46 547.86,848.59 551.49,848.71 555.12,848.81 558.76,848.90 562.39,848.98 566.02,849.05 569.66,849.11 573.29,849.16 576.93,849.21 580.56,849.25 584.19,849.29 587.83,849.32 591.46,849.35 595.09,849.37 598.73,849.39 602.36,849.41 606.00,849.42 609.63,849.43 613.26,849.44 616.90,849.45 620.53,849.46 624.16,849.47 627.80,849.47 631.43,849.48 635.07,849.48 638.70,849.48 642.33,849.49 645.97,849.49" fill="none" stroke="#87CEFA" stroke-width="1.7" stroke-linejoin="round" stroke-linecap="square"/>
<polyline points="60.99,849.49 64.84,849.49 68.69,849.49 72.54,849.48 76.39,849.48 80.24,849.47 84.09,849.47 87.94,849.46 91.79,849.46 95.64,849.45 99.49,849.44 103.34,849.43 107.19,849.41 111.04,849.40 114.90,849.38 118.75,849.35 122.60,849.33 126.45,849.30 130.30,849.26 134.15,849.23 138.00,849.18 141.85,849.13 145.70,849.07 149.55,849.01 153.40,848.93 157.25,848.85 161.10,848.75 164.95,848.64 168.80,848.52 172.66,848.39 176.51,848.24 180.36,848.07 184.21,847.89 188.06,847.69 191.91,847.46 195.76,847.22 199.61,846.95 203.46,846.65 207.31,846.34 211.16,845.99 215.01,845.62 218.86,845.21 222.71,844.78 226.56,844.32 230.42,843.82 234.27,843.29 238.12,842.73 241.97,842.14 245.82,841.52 249.67,840.87 253.52,840.18 257.37,839.47 261.22,838.73 265.07,837.96 268.92,837.17 272.77,836.36 276.62,835.53 280.47,834.69 284.32,833.83 288.18,832.96 292.03,832.09 295.88,831.22 299.73,830.36 303.58,829.50 307.43,828.66 311.28,827.84 315.13,827.04 318.98,826.27 322.83,825.53 326.68,824.83 330.53,824.17 334.38,823.56 338.23,823.01 342.08,822.51 345.94,822.06 349.79,821.68 353.64,821.37 357.49,821.12 361.34,820.94 365.19,820.84 369.04,820.80 372.89,820.84 376.74,820.94 380.59,821.12 384.44,821.37 388.29,821.68 392.14,822.06 395.99,822.51 399.84,823.01 403.70,823.56 407.55,824.17 411.40,824.83 415.25,825.53 419.10,826.27 422.95,827.04 426.80,827.84 430.65,828.66 434.50,829.50 438.35,830.36 442.20,831.22 446.05,832.09 449.90,832.96 453.75,833.83 457.60,834.69 461.45,835.53 465.31,836.36 469.16,837.17 473.01,837.96 476.86,838.73 480.71,839.47 484.56,840.18 488.41,840.87 492.26,841.52 496.11,842.14 499.96,842.73 503.81,843.29 507.66,843.82 511.51,844.32 515.36,844.78 519.21,845.21 523.07,845.62 526.92,845.99 530.77,846.34 534.62,846.65 538.47,846.95 542.32,847.22 546.17,847.46 550.02,847.69 553.87,847.89 557.72,848.07 561.57,848.24 565.42,848.39 569.27,848.52 573.12,848.64 576.97,848.75 580.83,848.85 584.68,848.93 588.53,849.01 592.38,849.07 596.23,849.13 600.08,849.18 603.93,849.23 607.78,849.26 611.63,849.30 615.48,849.33 619.33,849.35 623.18,849.38 627.03,849.40 630.88,849.41 634.73,849.43 638.59,849.44 642.44,849.45 646.29,849.46 650.14,849.46 653.99,849.47 657.84,849.47 661.69,849.48 665.54,849.48 669.39,849.49 673.24,849.49 677.09,849.49" fill="none" stroke="#87CEFA" stroke-width="1.7" stroke-linejoin="round" stroke-linecap="square"/>
<polyline points="228.71,849.48 230.89,849.48 233.07,849.47 235.25,849.47 237.43,849.46 239.61,849.46 241.79,849.45 243.97,849.44 246.15,849.42 248.33,849.41 250.51,849.39 252.69,849.37 254.87,849.34 257.05,849.31 259.23,849.28 261.41,849.24 263.59,849.20 265.78,849.14 267.96,849.08 270.14,849.02 272.32,848.94 274.50,848.85 276.68,848.74 278.86,848.63 281.04,848.49 283.22,848.34 285.40,848.18 287.58,847.99 289.76,847.77 291.94,847.54 294.12,847.27 296.30,846.98 298.48,846.65 300.66,846.30 302.84,845.90 305.02,845.47 307.20,844.99 309.38,844.48 311.56,843.91 313.74,843.30 315.92,842.64 318.10,841.93 320.28,841.16 322.46,840.34 324.64,839.47 326.82,838.54 329.00,837.55 331.18,836.51 333.36,835.41 335.54,834.25 337.72,833.04 339.90,831.79 342.08,830.48 344.26,829.12 346.45,827.73 348.63,826.29 350.81,824.83 352.99,823.34 355.17,821.82 357.35,820.29 359.53,818.76 361.71,817.22 363.89,815.69 366.07,814.18 368.25,812.69 370.43,811.24 372.61,809.83 374.79,808.47 376.97,807.16 379.15,805.93 381.33,804.77 383.51,803.69 385.69,802.71 387.87,801.83 390.05,801.04 392.23,800.37 394.41,799.82 396.59,799.38 398.77,799.07 400.95,798.88 403.13,798.81 405.31,798.88 407.49,799.07 409.67,799.38 411.85,799.82 414.03,800.37 416.21,801.04 418.39,801.83 420.57,802.71 422.75,803.69 424.93,804.77 427.11,805.93 429.30,807.16 431.48,808.47 433.66,809.83 435.84,811.24 438.02,812.69 440.20,814.18 442.38,815.69 444.56,817.22 446.74,818.76 448.92,820.29 451.10,821.82 453.28,823.34 455.46,824.83 457.64,826.29 459.82,827.73 462.00,829.12 464.18,830.48 466.36,831.79 468.54,833.04 470.72,834.25 472.90,835.41 475.08,836.51 477.26,837.55 479.44,838.54 481.62,839.47 483.80,840.34 485.98,841.16 488.16,841.93 490.34,842.64 492.52,843.30 494.70,843.91 496.88,844.48 499.06,844.99 501.24,845.47 503.42,845.90 505.60,846.30 507.78,846.65 509.96,846.98 512.15,847.27 514.33,847.54 516.51,847.77 518.69,847.99 520.87,848.18 523.05,848.34 525.23,848.49 527.41,848.63 529.59,848.74 531.77,848.85 533.95,848.94 536.13,849.02 538.31,849.08 540.49,849.14 542.67,849.20 544.85,849.24 547.03,849.28 549.21,849.31 551.39,849.34 553.57,849.37 555.75,849.39 557.93,849.41 560.11,849.42 562.29,849.44 564.47,849.45 566.65,849.46 568.83,849.46 571.01,849.47 573.19,849.47 575.37,849.48 577.55,849.48" fill="none" stroke="#87CEFA" stroke-width="1.7" stroke-linejoin="round" stroke-linecap="square"/>
<polyline points="259.38,849.47 260.52,849.46 261.66,849.45 262.80,849.44 263.94,849.43 265.09,849.41 266.23,849.40 267.37,849.38 268.51,849.35 269.65,849.32 270.79,849.29 271.94,849.25 273.08,849.20 274.22,849.15 275.36,849.08 276.50,849.01 277.64,848.92 278.78,848.82 279.93,848.71 281.07,848.58 282.21,848.42 283.35,848.25 284.49,848.06 285.63,847.83 286.78,847.58 287.92,847.29 289.06,846.97 290.20,846.61 291.34,846.20 292.48,845.75 293.62,845.25 294.77,844.69 295.91,844.07 297.05,843.38 298.19,842.63 299.33,841.80 300.47,840.89 301.61,839.90 302.76,838.83 303.90,837.66 305.04,836.40 306.18,835.04 307.32,833.58 308.46,832.01 309.60,830.34 310.75,828.56 311.89,826.68 313.03,824.68 314.17,822.58 315.31,820.38 316.45,818.07 317.60,815.66 318.74,813.17 319.88,810.58 321.02,807.91 322.16,805.18 323.30,802.38 324.44,799.53 325.59,796.63 326.73,793.72 327.87,790.78 329.01,787.85 330.15,784.93 331.29,782.04 332.44,779.20 333.58,776.42 334.72,773.73 335.86,771.13 337.00,768.64 338.14,766.28 339.28,764.07 340.43,762.01 341.57,760.13 342.71,758.44 343.85,756.95 344.99,755.67 346.13,754.61 347.27,753.77 348.42,753.17 349.56,752.81 350.70,752.69 351.84,752.81 352.98,753.17 354.12,753.77 355.26,754.61 356.41,755.67 357.55,756.95 358.69,758.44 359.83,760.13 360.97,762.01 362.11,764.07 363.26,766.28 364.40,768.64 365.54,771.13 366.68,773.73 367.82,776.42 368.96,779.20 370.10,782.04 371.25,784.93 372.39,787.85 373.53,790.78 374.67,793.72 375.81,796.63 376.95,799.53 378.09,802.38 379.24,805.18 380.38,807.91 381.52,810.58 382.66,813.17 383.80,815.66 384.94,818.07 386.09,820.38 387.23,822.58 388.37,824.68 389.51,826.68 390.65,828.56 391.79,830.34 392.93,832.01 394.08,833.58 395.22,835.04 396.36,836.40 397.50,837.66 398.64,838.83 399.78,839.90 400.93,840.89 402.07,841.80 403.21,842.63 404.35,843.38 405.49,844.07 406.63,844.69 407.77,845.25 408.92,845.75 410.06,846.20 411.20,846.61 412.34,846.97 413.48,847.29 414.62,847.58 415.76,847.83 416.91,848.06 418.05,848.25 419.19,848.42 420.33,848.58 421.47,848.71 422.61,848.82 423.75,848.92 424.90,849.01 426.04,849.08 427.18,849.15 428.32,849.20 429.46,849.25 430.60,849.29 431.75,849.32 432.89,849.35 434.03,849.38 435.17,849.40 436.31,849.41 437.45,849.43 438.59,849.44 439.74,849.45 440.88,849.46 442.02,849.47" fill="none" stroke="#8B0000" stroke-width="5.6" stroke-linejoin="round" stroke-linecap="square"/>
<polyline points="212.96,849.48 214.44,849.47 215.93,849.46 217.41,849.45 218.89,849.45 220.38,849.43 221.86,849.42 223.35,849.40 224.83,849.39 226.31,849.36 227.80,849.34 229.28,849.31 230.77,849.27 232.25,849.23 233.73,849.18 235.22,849.12 236.70,849.05 238.19,848.98 239.67,848.89 241.15,848.79 242.64,848.67 244.12,848.54 245.60,848.39 247.09,848.22 248.57,848.02 250.06,847.80 251.54,847.55 253.02,847.28 254.51,846.96 255.99,846.62 257.48,846.23 258.96,845.80 260.44,845.32 261.93,844.79 263.41,844.21 264.90,843.58 266.38,842.88 267.86,842.12 269.35,841.29 270.83,840.39 272.32,839.42 273.80,838.38 275.28,837.25 276.77,836.05 278.25,834.76 279.74,833.39 281.22,831.94 282.70,830.41 284.19,828.79 285.67,827.10 287.16,825.32 288.64,823.47 290.12,821.55 291.61,819.56 293.09,817.51 294.58,815.41 296.06,813.25 297.54,811.06 299.03,808.83 300.51,806.59 301.99,804.33 303.48,802.08 304.96,799.83 306.45,797.61 307.93,795.42 309.41,793.29 310.90,791.21 312.38,789.21 313.87,787.30 315.35,785.48 316.83,783.78 318.32,782.20 319.80,780.76 321.29,779.46 322.77,778.31 324.25,777.32 325.74,776.51 327.22,775.86 328.71,775.40 330.19,775.12 331.67,775.03 333.16,775.12 334.64,775.40 336.13,775.86 337.61,776.51 339.09,777.32 340.58,778.31 342.06,779.46 343.55,780.76 345.03,782.20 346.51,783.78 348.00,785.48 349.48,787.30 350.97,789.21 352.45,791.21 353.93,793.29 355.42,795.42 356.90,797.61 358.39,799.83 359.87,802.08 361.35,804.33 362.84,806.59 364.32,808.83 365.80,811.06 367.29,813.25 368.77,815.41 370.26,817.51 371.74,819.56 373.22,821.55 374.71,823.47 376.19,825.32 377.68,827.10 379.16,828.79 380.64,830.41 382.13,831.94 383.61,833.39 385.10,834.76 386.58,836.05 388.06,837.25 389.55,838.38 391.03,839.42 392.52,840.39 394.00,841.29 395.48,842.12 396.97,842.88 398.45,843.58 399.94,844.21 401.42,844.79 402.90,845.32 404.39,845.80 405.87,846.23 407.36,846.62 408.84,846.96 410.32,847.28 411.81,847.55 413.29,847.80 414.78,848.02 416.26,848.22 417.74,848.39 419.23,848.54 420.71,848.67 422.19,848.79 423.68,848.89 425.16,848.98 426.65,849.05 428.13,849.12 429.61,849.18 431.10,849.23 432.58,849.27 434.07,849.31 435.55,849.34 437.03,849.36 438.52,849.39 440.00,849.40 441.49,849.42 442.97,849.43 444.45,849.45 445.94,849.45 447.42,849.46 448.91,849.47 450.39,849.48" fill="none" stroke="#006400" stroke-width="5.6" stroke-linejoin="round" stroke-linecap="square"/>
<path d="M-2.8,849.15H615.0" stroke="#000" stroke-width="4.1" stroke-dasharray="12.5 4.17" fill="none"/>
</g>
<rect x="153.4" y="54.0" width="456.6" height="540.5" fill="none" stroke="#000" stroke-width="1.05"/>
<path d="M153.4,594.5v3.7" stroke="#000" stroke-width="1.05"/>
<text x="153.4" y="613.7" font-size="15.7" text-anchor="middle">5</text>
<path d="M229.5,594.5v3.7" stroke="#000" stroke-width="1.05"/>
<text x="229.5" y="613.7" font-size="15.7" text-anchor="middle">6</text>
<path d="M305.6,594.5v3.7" stroke="#000" stroke-width="1.05"/>
<text x="305.6" y="613.7" font-size="15.7" text-anchor="middle">7</text>
<path d="M381.7,594.5v3.7" stroke="#000" stroke-width="1.05"/>
<text x="381.7" y="613.7" font-size="15.7" text-anchor="middle">8</text>
<path d="M457.8,594.5v3.7" stroke="#000" stroke-width="1.05"/>
<text x="457.8" y="613.7" font-size="15.7" text-anchor="middle">9</text>
<path d="M533.9,594.5v3.7" stroke="#000" stroke-width="1.05"/>
<text x="533.9" y="613.7" font-size="15.7" text-anchor="middle">10</text>
<path d="M610,594.5v3.7" stroke="#000" stroke-width="1.05"/>
<text x="610" y="613.7" font-size="15.7" text-anchor="middle">11</text>
<rect x="153.4" y="628.5" width="456.6" height="231.5" fill="none" stroke="#000" stroke-width="1.05"/>
<path d="M153.4,860v3.7" stroke="#000" stroke-width="1.05"/>
<text x="153.4" y="879.2" font-size="15.7" text-anchor="middle">5</text>
<path d="M229.5,860v3.7" stroke="#000" stroke-width="1.05"/>
<text x="229.5" y="879.2" font-size="15.7" text-anchor="middle">6</text>
<path d="M305.6,860v3.7" stroke="#000" stroke-width="1.05"/>
<text x="305.6" y="879.2" font-size="15.7" text-anchor="middle">7</text>
<path d="M381.7,860v3.7" stroke="#000" stroke-width="1.05"/>
<text x="381.7" y="879.2" font-size="15.7" text-anchor="middle">8</text>
<path d="M457.8,860v3.7" stroke="#000" stroke-width="1.05"/>
<text x="457.8" y="879.2" font-size="15.7" text-anchor="middle">9</text>
<path d="M533.9,860v3.7" stroke="#000" stroke-width="1.05"/>
<text x="533.9" y="879.2" font-size="15.7" text-anchor="middle">10</text>
<path d="M610,860v3.7" stroke="#000" stroke-width="1.05"/>
<text x="610" y="879.2" font-size="15.7" text-anchor="middle">11</text>
<path d="M153.4,78.6h-3.7" stroke="#000" stroke-width="1.05"/>
<text transform="translate(144.4,78.6) rotate(-10)" x="0" y="5.6" font-size="14.6" text-anchor="end">Cepheid</text>
<path d="M153.4,93.49h-3.7" stroke="#000" stroke-width="1.05"/>
<text transform="translate(144.4,93.49) rotate(-10)" x="0" y="5.6" font-size="14.6" text-anchor="end">2005cs</text>
<path d="M153.4,108.38h-3.7" stroke="#000" stroke-width="1.05"/>
<text transform="translate(144.4,108.38) rotate(-10)" x="0" y="5.6" font-size="14.6" text-anchor="end">McQuinn(2017)</text>
<path d="M153.4,123.26h-3.7" stroke="#000" stroke-width="1.05"/>
<text transform="translate(144.4,123.26) rotate(-10)" x="0.45" y="5.6" font-size="14.6" text-anchor="end">Tikhonov(2015)</text>
<path d="M153.4,138.15h-3.7" stroke="#000" stroke-width="1.05"/>
<text transform="translate(144.4,138.15) rotate(-10)" x="0.45" y="5.6" font-size="14.6" text-anchor="end">Tikhonov(2015)</text>
<path d="M153.4,153.04h-3.7" stroke="#000" stroke-width="1.05"/>
<text transform="translate(144.4,153.04) rotate(-10)" x="0.45" y="5.6" font-size="14.6" text-anchor="end">Tikhonov(2015)</text>
<path d="M153.4,167.93h-3.7" stroke="#000" stroke-width="1.05"/>
<text transform="translate(144.4,167.93) rotate(-10)" x="1.13" y="5.6" font-size="14.6" text-anchor="end">Vogl(2020)</text>
<path d="M153.4,182.82h-3.7" stroke="#000" stroke-width="1.05"/>
<text transform="translate(144.4,182.82) rotate(-10)" x="0.52" y="5.6" font-size="14.6" text-anchor="end">Pejcha(2015)</text>
<path d="M153.4,197.7h-3.7" stroke="#000" stroke-width="1.05"/>
<text transform="translate(144.4,197.7) rotate(-10)" x="0.66" y="5.6" font-size="14.6" text-anchor="end">Rodríguez(2014)</text>
<path d="M153.4,212.59h-3.7" stroke="#000" stroke-width="1.05"/>
<text transform="translate(144.4,212.59) rotate(-10)" x="0.66" y="5.6" font-size="14.6" text-anchor="end">Rodríguez(2014)</text>
<path d="M153.4,227.48h-3.7" stroke="#000" stroke-width="1.05"/>
<text transform="translate(144.4,227.48) rotate(-10)" x="0" y="5.6" font-size="14.6" text-anchor="end">Bose(2014)</text>
<path d="M153.4,242.37h-3.7" stroke="#000" stroke-width="1.05"/>
<text transform="translate(144.4,242.37) rotate(-10)" x="0" y="5.6" font-size="14.6" text-anchor="end">Bose(2014)</text>
<path d="M153.4,257.25h-3.7" stroke="#000" stroke-width="1.05"/>
<text transform="translate(144.4,257.25) rotate(-10)" x="0" y="5.6" font-size="14.6" text-anchor="end">Bose(2014)</text>
<path d="M153.4,272.14h-3.7" stroke="#000" stroke-width="1.05"/>
<text transform="translate(144.4,272.14) rotate(-10)" x="0" y="5.6" font-size="14.6" text-anchor="end">Bose(2014)</text>
<path d="M153.4,287.03h-3.7" stroke="#000" stroke-width="1.05"/>
<text transform="translate(144.4,287.03) rotate(-10)" x="0.84" y="5.6" font-size="14.6" text-anchor="end">Vinkó(2012)</text>
<path d="M153.4,301.92h-3.7" stroke="#000" stroke-width="1.05"/>
<text transform="translate(144.4,301.92) rotate(-10)" x="2.67" y="5.6" font-size="14.6" text-anchor="end">Takáts(2012)</text>
<path d="M153.4,316.81h-3.7" stroke="#000" stroke-width="1.05"/>
<text transform="translate(144.4,316.81) rotate(-10)" x="2.67" y="5.6" font-size="14.6" text-anchor="end">Takáts(2012)</text>
<path d="M153.4,331.69h-3.7" stroke="#000" stroke-width="1.05"/>
<text transform="translate(144.4,331.69) rotate(-10)" x="0.52" y="5.6" font-size="14.6" text-anchor="end">Poznanski(2009)</text>
<path d="M153.4,346.58h-3.7" stroke="#000" stroke-width="1.05"/>
<text transform="translate(144.4,346.58) rotate(-10)" x="0" y="5.6" font-size="14.6" text-anchor="end">Dessart(2008)</text>
<path d="M153.4,361.47h-3.7" stroke="#000" stroke-width="1.05"/>
<text transform="translate(144.4,361.47) rotate(-10)" x="0" y="5.6" font-size="14.6" text-anchor="end">Dessart(2008)</text>
<path d="M153.4,376.36h-3.7" stroke="#000" stroke-width="1.05"/>
<text transform="translate(144.4,376.36) rotate(-10)" x="0.32" y="5.6" font-size="14.6" text-anchor="end">Baron(2007)</text>
<path d="M153.4,391.25h-3.7" stroke="#000" stroke-width="1.05"/>
<text transform="translate(144.4,391.25) rotate(-10)" x="2.67" y="5.6" font-size="14.6" text-anchor="end">Takáts(2006)</text>
<path d="M153.4,406.13h-3.7" stroke="#000" stroke-width="1.05"/>
<text transform="translate(144.4,406.13) rotate(-10)" x="2.67" y="5.6" font-size="14.6" text-anchor="end">Takáts(2006)</text>
<path d="M153.4,421.02h-3.7" stroke="#000" stroke-width="1.05"/>
<text transform="translate(144.4,421.02) rotate(-10)" x="0" y="5.6" font-size="14.6" text-anchor="end">Richmond(1996)</text>
<path d="M153.4,435.91h-3.7" stroke="#000" stroke-width="1.05"/>
<text transform="translate(144.4,435.91) rotate(-10)" x="0.32" y="5.6" font-size="14.6" text-anchor="end">Baron(1996)</text>
<path d="M153.4,450.8h-3.7" stroke="#000" stroke-width="1.05"/>
<text transform="translate(144.4,450.8) rotate(-10)" x="0" y="5.6" font-size="14.6" text-anchor="end">Iwamoto(1994)</text>
<path d="M153.4,465.68h-3.7" stroke="#000" stroke-width="1.05"/>
<text transform="translate(144.4,465.68) rotate(-10)" x="0.26" y="5.6" font-size="14.6" text-anchor="end">Ciardullo(2002)</text>
<path d="M153.4,480.57h-3.7" stroke="#000" stroke-width="1.05"/>
<text transform="translate(144.4,480.57) rotate(-10)" x="1.38" y="5.6" font-size="14.6" text-anchor="end">Ferrarese(2000)</text>
<path d="M153.4,495.46h-3.7" stroke="#000" stroke-width="1.05"/>
<text transform="translate(144.4,495.46) rotate(-10)" x="0.8" y="5.6" font-size="14.6" text-anchor="end">Feldmeier(1997)</text>
<path d="M153.4,510.35h-3.7" stroke="#000" stroke-width="1.05"/>
<text transform="translate(144.4,510.35) rotate(-10)" x="2.22" y="5.6" font-size="14.6" text-anchor="end">Tully(2013)</text>
<path d="M153.4,525.24h-3.7" stroke="#000" stroke-width="1.05"/>
<text transform="translate(144.4,525.24) rotate(-10)" x="0.26" y="5.6" font-size="14.6" text-anchor="end">Ciardullo(2002)</text>
<path d="M153.4,540.12h-3.7" stroke="#000" stroke-width="1.05"/>
<text transform="translate(144.4,540.12) rotate(-10)" x="2.48" y="5.6" font-size="14.6" text-anchor="end">Tonry(2001)</text>
<path d="M153.4,555.01h-3.7" stroke="#000" stroke-width="1.05"/>
<text transform="translate(144.4,555.01) rotate(-10)" x="1.38" y="5.6" font-size="14.6" text-anchor="end">Ferrarese(2000)</text>
<path d="M153.4,569.9h-3.7" stroke="#000" stroke-width="1.05"/>
<text transform="translate(144.4,569.9) rotate(-10)" x="0" y="5.6" font-size="14.6" text-anchor="end">Richmond(1996)</text>
<path d="M153.4,849.5h-3.7" stroke="#000" stroke-width="1.05"/>
<text x="145.8" y="855.5" font-size="15.3" text-anchor="end">0.0</text>
<path d="M153.4,813.1h-3.7" stroke="#000" stroke-width="1.05"/>
<text x="145.8" y="819.1" font-size="15.3" text-anchor="end">0.5</text>
<path d="M153.4,776.7h-3.7" stroke="#000" stroke-width="1.05"/>
<text x="145.8" y="782.7" font-size="15.3" text-anchor="end">1.0</text>
<path d="M153.4,740.3h-3.7" stroke="#000" stroke-width="1.05"/>
<text x="145.8" y="746.3" font-size="15.3" text-anchor="end">1.5</text>
<path d="M153.4,703.9h-3.7" stroke="#000" stroke-width="1.05"/>
<text x="145.8" y="709.9" font-size="15.3" text-anchor="end">2.0</text>
<path d="M153.4,667.5h-3.7" stroke="#000" stroke-width="1.05"/>
<text x="145.8" y="673.5" font-size="15.3" text-anchor="end">2.5</text>
<path d="M153.4,631.1h-3.7" stroke="#000" stroke-width="1.05"/>
<text x="145.8" y="637.1" font-size="15.3" text-anchor="end">3.0</text>
<text x="380.9" y="901.6" font-size="19.65" text-anchor="middle"><tspan font-style="italic">D</tspan> [Mpc]</text>
<text transform="translate(112,744.2) rotate(-90)" font-size="19.92" text-anchor="middle">PDF (normalized)</text>
<path d="M529.0,102.3H543.4V156.7H529.0" fill="none" stroke="#4169E1" stroke-width="2.2" stroke-linejoin="round" stroke-linecap="round"/>
<path d="M543.4,129.5h1.2" fill="none" stroke="#4169E1" stroke-width="2.2" stroke-linejoin="round" stroke-linecap="round"/>
<path d="M528.1,166.3L542.4,166.4L540.4,449.5L526.1,449.4" fill="none" stroke="#A9A9A9" stroke-width="2.2" stroke-linejoin="round" stroke-linecap="round"/>
<path d="M541.4,307.9h1.0" fill="none" stroke="#A9A9A9" stroke-width="2.2" stroke-linejoin="round" stroke-linecap="round"/>
<path d="M529.2,458.2H543.6V503.8H529.2" fill="none" stroke="#EE82EE" stroke-width="2.2" stroke-linejoin="round" stroke-linecap="round"/>
<path d="M543.6,480.8H546.7" fill="none" stroke="#EE82EE" stroke-width="2.2" stroke-linejoin="round" stroke-linecap="round"/>
<path d="M529.2,509.2H543.6V571.8H529.2" fill="none" stroke="#87CEFA" stroke-width="2.2" stroke-linejoin="round" stroke-linecap="round"/>
<path d="M543.6,540.6H550.4" fill="none" stroke="#87CEFA" stroke-width="2.2" stroke-linejoin="round" stroke-linecap="round"/>
<text x="569.1" y="133.6" font-size="14.45" text-anchor="middle" fill="#4169E1">TRGB</text>
<text x="571.1" y="312.1" font-size="14.6" text-anchor="middle" fill="#808080">SN opt.</text>
<text x="569.1" y="484.9" font-size="14.45" text-anchor="middle" fill="#EE82EE">PNLF</text>
<text x="569.1" y="544.5" font-size="14.45" text-anchor="middle" fill="#87CEFA">SBF</text>
<path d="M296.4,79.7V54.3H366.0V79.7" fill="none" stroke="#006400" stroke-width="2.2" stroke-linejoin="round" stroke-linecap="round"/>
<path d="M331.4,54.3V41.5" fill="none" stroke="#006400" stroke-width="2.2" stroke-linejoin="round" stroke-linecap="round"/>
<path d="M324.4,66.7V40.75H378.5V66.7" fill="none" stroke="#8B0000" stroke-width="2.2" stroke-linejoin="round" stroke-linecap="round"/>
<path d="M351.3,40.75V28.2" fill="none" stroke="#8B0000" stroke-width="2.2" stroke-linejoin="round" stroke-linecap="round"/>
<text x="321.4" y="19.8" font-size="16.7" fill="#8B0000" font-style="italic">σ<tspan font-size="11.69" dy="2.3">Cepheid</tspan></text>
<text x="283.0" y="34.2" font-size="16.7" fill="#006400"><tspan font-style="italic">σ</tspan><tspan font-size="11.69" dy="2.3">2005<tspan font-style="italic">cs</tspan></tspan></text>
<text x="370.3" y="38.9" font-size="16.8">- Present work</text>
<rect x="472.0" y="635.6" width="130.7" height="133.1" rx="2.8" fill="#fff" fill-opacity="0.8" stroke="#ccc" stroke-opacity="0.8" stroke-width="1.3"/>
<path d="M477.1,647.2H507.8" stroke="#4169E1" stroke-width="1.7"/>
<text x="519.2" y="652.2" font-size="14.6">TRGB</text>
<path d="M477.1,668.78H507.8" stroke="#A9A9A9" stroke-width="1.7"/>
<text x="519.2" y="673.78" font-size="14.6">SN opt.</text>
<path d="M477.1,690.36H507.8" stroke="#EE82EE" stroke-width="1.7"/>
<text x="519.2" y="695.36" font-size="14.6">PNLF</text>
<path d="M477.1,711.94H507.8" stroke="#87CEFA" stroke-width="1.7"/>
<text x="519.2" y="716.94" font-size="14.6">SBF</text>
<path d="M475.1,733.52H510.0" stroke="#8B0000" stroke-width="5.3"/>
<text x="519.2" y="738.52" font-size="14.6">Cepheid</text>
<path d="M475.1,755.1H510.0" stroke="#006400" stroke-width="5.3"/>
<text x="519.2" y="760.1" font-size="14.6">SN 2005cs</text>
</svg>
</body></html>
